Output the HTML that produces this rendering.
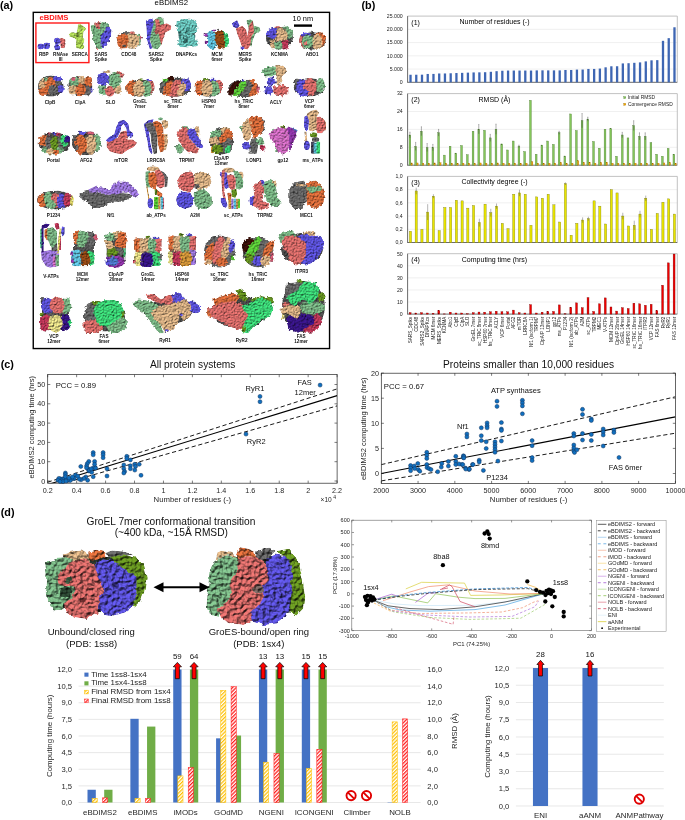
<!DOCTYPE html>
<html><head><meta charset="utf-8"><title>eBDIMS2 figure</title>
<style>
html,body{margin:0;padding:0;background:#fff;}
svg{display:block;font-family:"Liberation Sans", sans-serif;will-change:transform;}
</style></head>
<body>
<svg width="685" height="820" viewBox="0 0 685 820">
<rect width="685" height="820" fill="#fff"/>
<text x="0.00" y="9.30" font-size="10.8" text-anchor="start" fill="#000" font-weight="bold">(a)</text>
<text x="361.50" y="9.40" font-size="10.8" text-anchor="start" fill="#000" font-weight="bold">(b)</text>
<text x="0.70" y="368.10" font-size="10.8" text-anchor="start" fill="#000" font-weight="bold">(c)</text>
<text x="0.70" y="516.30" font-size="10.8" text-anchor="start" fill="#000" font-weight="bold">(d)</text>
<text x="171.30" y="5.00" font-size="7.8" text-anchor="middle" fill="#000">eBDIMS2</text>
<rect x="33.25" y="12.35" width="296.30" height="336.20" fill="none" stroke="#000" stroke-width="1.4"/>
<text x="39.50" y="20.20" font-size="7.65" text-anchor="start" fill="#ff1a1a" font-weight="bold">eBDIMS</text>
<rect x="35.90" y="23.00" width="53.00" height="39.60" fill="none" stroke="#ff1a1a" stroke-width="1.4"/>
<text x="292.60" y="21.00" font-size="7.4" text-anchor="start" fill="#000">10 nm</text>
<rect x="294.00" y="24.40" width="18.00" height="2.40" fill="#000"/>
<filter id="fp" x="-15%" y="-15%" width="130%" height="130%" color-interpolation-filters="sRGB"><feTurbulence type="fractalNoise" baseFrequency="0.33" numOctaves="2" seed="3" result="n"/><feDisplacementMap in="SourceGraphic" in2="n" scale="3.6" xChannelSelector="R" yChannelSelector="G" result="d"/><feTurbulence type="fractalNoise" baseFrequency="0.9" numOctaves="2" seed="14" result="t"/><feDiffuseLighting in="t" surfaceScale="3.0" diffuseConstant="1.0" lighting-color="#fff" result="L"><feDistantLight azimuth="235" elevation="55"/></feDiffuseLighting><feComposite in="d" in2="L" operator="arithmetic" k1="0.9" k2="0.18999999999999995" k3="0" k4="0" result="m"/><feComposite in="m" in2="d" operator="in"/></filter>
<filter id="fps" x="-15%" y="-15%" width="130%" height="130%" color-interpolation-filters="sRGB"><feTurbulence type="fractalNoise" baseFrequency="0.45" numOctaves="2" seed="3" result="n"/><feDisplacementMap in="SourceGraphic" in2="n" scale="1.8" xChannelSelector="R" yChannelSelector="G" result="d"/><feTurbulence type="fractalNoise" baseFrequency="0.9" numOctaves="2" seed="14" result="t"/><feDiffuseLighting in="t" surfaceScale="3.0" diffuseConstant="1.0" lighting-color="#fff" result="L"><feDistantLight azimuth="235" elevation="55"/></feDiffuseLighting><feComposite in="d" in2="L" operator="arithmetic" k1="0.9" k2="0.18999999999999995" k3="0" k4="0" result="m"/><feComposite in="m" in2="d" operator="in"/></filter>
<g filter="url(#fps)"><ellipse cx="40.8" cy="46.6" rx="3.4" ry="3.0" fill="#5f55e3"/><ellipse cx="46.6" cy="45.9" rx="3.4" ry="3.3" fill="#5f55e3"/></g>
<g filter="url(#fps)"><polygon points="59.0,38.8 62.0,37.8 65.5,39.5 65.6,44.0 64.5,48.3 61.0,48.0 60.0,44.0 59.5,41.0" fill="#e3716e"/><polygon points="54.3,38.5 57.5,37.6 60.0,39.0 60.5,43.0 58.5,45.0 60.5,47.0 59.5,50.2 55.0,50.0 54.0,46.5 55.5,44.0 54.0,41.5" fill="#5f55e3"/><ellipse cx="59.5" cy="44.2" rx="1.6" ry="0.8" fill="#f4f4f4"/></g>
<g filter="url(#fps)"><polygon points="77.9,24.5 80.4,24.1 83.2,26.1 86.1,28.2 85.7,29.8 83.6,31.4 83.2,34.7 82.8,37.2 84.4,39.2 84.0,41.7 83.2,44.5 84.4,46.2 83.6,48.6 81.2,49.4 78.7,48.6 76.3,48.2 75.9,44.5 76.3,40.4 75.0,38.4 72.2,37.6 69.3,36.4 68.9,34.3 71.0,32.3 73.4,32.3 76.3,33.1 77.1,30.6 77.5,28.2" fill="#b7e25c"/><ellipse cx="77.5" cy="35.0" rx="2.2" ry="2.0" fill="#7f9f3c"/><ellipse cx="80.5" cy="42.0" rx="1.2" ry="1.8" fill="#8fb445"/><ellipse cx="80.5" cy="27.5" rx="1.2" ry="1.0" fill="#8fb445"/></g>
<g filter="url(#fp)"><polygon points="90.6,25.8 95.9,23.2 105.1,21.9 109.7,25.8 107.7,33.7 103.8,42.9 102.5,49.5 95.9,48.2 93.3,40.3 91.3,31.1" fill="#7fbd8a"/><polygon points="95.2,22.5 99.0,21.9 100.5,25.0 99.0,29.1 96.0,28.0" fill="#e3716e"/><polygon points="106.4,25.2 111.6,29.8 111.0,36.3 107.7,44.2 103.8,49.5 100.5,45.5 101.1,36.3 105.1,31.1" fill="#5f55e3"/><ellipse cx="97.2" cy="48.8" rx="1.2" ry="1.5" fill="#e3716e"/></g>
<g filter="url(#fp)"><polygon points="120.8,32.4 126.1,31.1 131.4,32.4 128.0,35.5 122.0,35.5" fill="#6c6c6c"/><polygon points="136.0,33.7 139.5,33.5 141.2,38.0 140.5,44.0 137.0,46.8 136.0,40.0" fill="#7fbd8a"/><polygon points="127.4,33.7 134.0,33.1 139.2,36.3 139.2,44.2 135.3,48.8 128.7,48.8 126.1,40.3" fill="#e3b98a"/><polygon points="116.2,36.3 120.8,33.7 127.4,35.0 128.7,40.3 127.4,48.2 119.5,48.8 117.6,44.2" fill="#e2703c"/><ellipse cx="131.8" cy="32.5" rx="2.0" ry="1.3" fill="#e3716e"/><ellipse cx="140.8" cy="37.3" rx="1.0" ry="1.8" fill="#d9607a"/><ellipse cx="124.0" cy="46.0" rx="2.0" ry="1.5" fill="#6c6c6c"/></g>
<g filter="url(#fps)"><polygon points="148.4,24.5 153.7,20.6 158.9,16.6 163.5,17.9 164.2,27.1 161.6,35.0 161.6,44.2 157.6,49.5 152.4,48.2 149.8,39.0 149.1,29.8" fill="#7fbd8a"/><polygon points="145.8,20.6 152.4,17.9 153.7,23.2 151.1,32.4 149.8,40.3 152.4,48.2 149.8,49.5 147.1,40.3 146.5,29.8" fill="#5f55e3"/><polygon points="155.0,19.3 159.0,19.5 160.0,25.0 166.8,23.2 171.4,25.8 170.8,29.8 165.5,32.4 162.9,40.3 161.6,45.5 160.0,40.0 159.0,35.0 156.0,28.0" fill="#e3716e"/><ellipse cx="156.5" cy="31.0" rx="1.5" ry="3.5" fill="#b85a5a"/></g>
<g filter="url(#fp)"><ellipse cx="187.0" cy="33.0" rx="9.0" ry="12.0" fill="#3f807a"/><polygon points="176.6,21.9 181.9,19.3 189.8,18.6 196.3,20.6 197.6,28.5 193.7,33.7 195.0,39.0 198.3,40.3 198.3,45.5 193.7,46.8 187.1,47.5 179.3,46.8 177.3,42.9 180.6,37.7 181.9,32.4 177.3,31.1 176.0,25.8" fill="#6fcfc6"/><ellipse cx="185.8" cy="40.3" rx="3.0" ry="3.0" fill="#3f807a"/><ellipse cx="188.0" cy="30.0" rx="2.5" ry="3.0" fill="#4fa39b"/></g>
<g filter="url(#fp)"><polygon points="222.6,31.1 227.9,33.7 229.2,40.3 228.5,46.8 223.9,48.2 223.0,40.0" fill="#3ee07c"/><polygon points="205.5,33.7 210.8,31.1 216.0,32.4 217.4,40.3 216.0,48.2 210.8,49.5 206.8,45.5 208.2,40.3" fill="#62c9e6"/><polygon points="214.7,32.4 221.3,30.4 223.9,33.7 225.2,40.3 224.6,48.2 218.7,49.5 216.0,42.9" fill="#9b4c16"/><ellipse cx="206.2" cy="35.0" rx="1.8" ry="2.0" fill="#9337ad"/><ellipse cx="206.2" cy="42.2" rx="1.8" ry="2.0" fill="#9337ad"/><ellipse cx="213.4" cy="30.6" rx="1.8" ry="1.4" fill="#9337ad"/><ellipse cx="218.0" cy="29.8" rx="1.2" ry="1.2" fill="#6c6c6c"/></g>
<g filter="url(#fps)"><polygon points="246.3,20.6 250.2,19.3 252.8,20.6 254.1,25.8 259.4,27.1 260.7,31.1 255.5,33.7 252.8,40.3 251.5,46.8 249.0,45.0 249.0,30.0" fill="#7fbd8a"/><polygon points="231.8,23.2 237.1,19.9 239.7,25.8 237.1,28.5 233.1,27.1" fill="#5f55e3"/><polygon points="235.8,28.5 242.3,25.8 246.3,29.8 247.6,36.3 248.9,25.8 252.8,20.6 254.1,32.4 251.5,36.3 250.2,45.5 247.6,49.5 242.3,48.2 239.7,40.3 237.1,33.7" fill="#e3716e"/><ellipse cx="242.3" cy="48.0" rx="2.0" ry="1.6" fill="#5f55e3"/></g>
<g filter="url(#fp)"><ellipse cx="279.5" cy="38.0" rx="13.5" ry="11.0" fill="#505050"/><polygon points="281.9,26.9 287.8,25.9 291.8,29.9 293.8,33.9 290.8,37.8 287.8,39.8 286.8,30.9" fill="#7fbd8a"/><polygon points="273.9,26.9 278.9,25.4 280.9,27.9 276.9,28.9" fill="#e3716e"/><polygon points="275.9,29.9 281.9,27.9 286.8,30.9 287.8,36.8 284.8,40.8 278.9,41.8 274.9,39.8 274.9,33.9" fill="#e3b98a"/><polygon points="265.0,34.9 268.0,29.9 271.9,27.9 276.9,28.9 276.9,35.8 273.9,39.3 269.0,37.8" fill="#5f55e3"/><polygon points="269.9,40.8 274.9,39.8 275.9,45.8 272.9,48.8 270.4,46.8" fill="#e3b98a"/><polygon points="281.9,40.8 287.8,39.8 289.3,43.8 287.8,48.8 282.9,49.7 281.4,44.8" fill="#c63a5c"/><polygon points="273.9,42.8 279.9,41.8 282.9,43.8 281.9,48.8 277.9,50.2 274.9,48.8" fill="#7fbd8a"/></g>
<g filter="url(#fp)"><ellipse cx="312.4" cy="40.9" rx="13.2" ry="8.9" fill="#505050"/><ellipse cx="319.6" cy="39.3" rx="6.0" ry="7.4" fill="#e2703c"/><ellipse cx="317.1" cy="41.8" rx="5.5" ry="7.9" fill="#e3b98a"/><ellipse cx="302.4" cy="40.6" rx="3.2" ry="7.2" fill="#e3716e"/><ellipse cx="305.7" cy="34.6" rx="5.0" ry="2.2" fill="#5f55e3"/><ellipse cx="307.6" cy="41.8" rx="6.0" ry="6.9" fill="#7fbd8a"/><ellipse cx="305.5" cy="43.5" rx="2.0" ry="1.5" fill="#e3716e"/><ellipse cx="311.1" cy="32.4" rx="1.5" ry="1.0" fill="#6c6c6c"/><ellipse cx="319.5" cy="33.2" rx="1.0" ry="1.0" fill="#6c6c6c"/></g>
<g filter="url(#fp)"><ellipse cx="50.8" cy="86.0" rx="12.8" ry="10.5" fill="#505050"/><ellipse cx="43.8" cy="85.0" rx="5.2" ry="6.0" fill="#e3b98a"/><ellipse cx="46.2" cy="79.0" rx="2.2" ry="2.0" fill="#7fbd8a"/><ellipse cx="43.2" cy="91.8" rx="4.8" ry="4.2" fill="#e2703c"/><ellipse cx="50.5" cy="86.0" rx="5.5" ry="9.0" fill="#e2703c"/><ellipse cx="53.0" cy="90.5" rx="5.0" ry="5.5" fill="#6c6c6c"/><ellipse cx="58.2" cy="82.0" rx="2.8" ry="4.0" fill="#6c6c6c"/><ellipse cx="57.6" cy="78.4" rx="4.6" ry="2.6" fill="#5f55e3"/><ellipse cx="61.0" cy="89.0" rx="2.7" ry="4.0" fill="#5f55e3"/></g>
<g filter="url(#fp)"><ellipse cx="80.3" cy="86.4" rx="12.1" ry="9.9" fill="#505050"/><ellipse cx="74.1" cy="81.7" rx="5.3" ry="4.6" fill="#7fbd8a"/><ellipse cx="82.6" cy="79.8" rx="4.6" ry="4.0" fill="#e3b98a"/><ellipse cx="88.5" cy="81.7" rx="4.0" ry="4.6" fill="#e2703c"/><ellipse cx="73.0" cy="90.2" rx="4.5" ry="5.2" fill="#e3b98a"/><ellipse cx="87.8" cy="90.2" rx="3.8" ry="5.2" fill="#6c6c6c"/><ellipse cx="80.7" cy="90.0" rx="5.3" ry="6.0" fill="#e2703c"/><ellipse cx="73.5" cy="78.5" rx="2.0" ry="1.5" fill="#d9607a"/><ellipse cx="91.7" cy="90.2" rx="1.1" ry="2.8" fill="#5f55e3"/></g>
<g filter="url(#fp)"><ellipse cx="107.0" cy="71.6" rx="4.0" ry="1.6" fill="#e3b98a"/><ellipse cx="118.8" cy="74.8" rx="5.2" ry="3.6" fill="#e3716e"/><ellipse cx="102.7" cy="89.6" rx="4.3" ry="5.9" fill="#7fbd8a"/><ellipse cx="117.5" cy="89.0" rx="4.0" ry="5.2" fill="#e3b98a"/><ellipse cx="114.5" cy="79.8" rx="6.9" ry="7.8" fill="#7fbd8a"/><ellipse cx="103.3" cy="79.1" rx="6.2" ry="6.6" fill="#5f55e3"/><ellipse cx="109.9" cy="91.2" rx="4.9" ry="5.5" fill="#e3716e"/></g>
<g filter="url(#fp)"><ellipse cx="140.3" cy="88.2" rx="14.1" ry="8.6" fill="#505050"/><ellipse cx="141.2" cy="79.5" rx="2.2" ry="1.2" fill="#6b9a22"/><ellipse cx="148.5" cy="80.2" rx="3.5" ry="1.4" fill="#5f55e3"/><ellipse cx="131.1" cy="87.8" rx="4.9" ry="7.4" fill="#e2703c"/><ellipse cx="150.4" cy="87.1" rx="4.1" ry="6.7" fill="#e3716e"/><ellipse cx="146.3" cy="88.6" rx="5.2" ry="8.2" fill="#7fbd8a"/><ellipse cx="138.9" cy="88.6" rx="6.0" ry="8.2" fill="#e3b98a"/></g>
<g filter="url(#fp)"><ellipse cx="175.0" cy="87.2" rx="16.0" ry="9.6" fill="#505050"/><ellipse cx="170.9" cy="78.6" rx="3.7" ry="1.9" fill="#3c1008"/><ellipse cx="165.5" cy="80.0" rx="3.0" ry="1.5" fill="#5fd43a"/><ellipse cx="185.8" cy="84.8" rx="5.2" ry="6.7" fill="#5f55e3"/><ellipse cx="162.3" cy="87.8" rx="3.3" ry="5.9" fill="#6c6c6c"/><polygon points="162.0,95.0 166.0,83.0 172.0,80.5 173.5,85.0 170.0,96.0" fill="#e2703c"/><polygon points="169.0,96.5 172.0,84.0 176.0,79.6 180.6,81.0 178.0,96.5" fill="#e3716e"/><polygon points="177.0,96.0 179.0,86.0 183.0,81.1 185.5,85.0 183.5,96.0" fill="#e3b98a"/></g>
<g filter="url(#fp)"><ellipse cx="208.8" cy="87.9" rx="14.2" ry="8.9" fill="#505050"/><ellipse cx="205.5" cy="79.3" rx="3.0" ry="1.2" fill="#6b9a22"/><ellipse cx="213.5" cy="79.8" rx="3.5" ry="1.2" fill="#5f55e3"/><ellipse cx="199.6" cy="87.5" rx="4.9" ry="7.8" fill="#e2703c"/><ellipse cx="218.8" cy="86.8" rx="4.2" ry="7.0" fill="#e3716e"/><ellipse cx="214.2" cy="88.5" rx="5.2" ry="8.0" fill="#7fbd8a"/><ellipse cx="207.2" cy="88.6" rx="5.8" ry="8.2" fill="#e3b98a"/></g>
<g filter="url(#fp)"><ellipse cx="243.8" cy="88.5" rx="15.7" ry="9.0" fill="#505050"/><polygon points="228.2,91.3 232.0,83.8 237.9,80.8 240.9,81.6 234.9,89.8 232.0,95.7 228.2,95.0" fill="#3c1008"/><polygon points="234.9,89.8 240.9,81.6 245.4,80.8 246.8,83.8 240.9,92.8 237.9,96.5 232.7,95.7" fill="#5fd43a"/><polygon points="245.4,80.8 249.8,80.8 252.8,85.3 249.8,94.2 246.8,96.5 239.4,96.5 242.4,91.3 246.8,84.6" fill="#6c6c6c"/><polygon points="248.3,79.4 254.3,80.1 258.0,85.3 258.8,92.8 254.3,95.7 248.3,96.5 251.3,89.8 252.8,83.8" fill="#e2703c"/><ellipse cx="258.1" cy="89.0" rx="1.7" ry="4.0" fill="#d9607a"/><ellipse cx="243.0" cy="80.7" rx="1.5" ry="0.9" fill="#5f55e3"/></g>
<g filter="url(#fp)"><polygon points="261.7,71.9 264.7,67.4 272.2,66.0 278.1,67.4 278.1,73.4 272.2,76.4 264.7,76.4" fill="#7fbd8a"/><polygon points="275.1,65.2 281.1,64.5 287.0,68.9 285.6,73.4 281.1,76.4 282.6,80.8 279.6,85.3 275.1,83.8 276.6,76.4" fill="#e3b98a"/><polygon points="267.7,77.9 273.6,76.4 275.9,82.3 272.2,86.8 267.7,84.6" fill="#5f55e3"/><polygon points="264.0,86.1 270.7,85.3 273.6,91.3 270.7,95.7 264.7,94.2" fill="#5f55e3"/><polygon points="273.6,86.8 281.1,84.6 288.5,86.8 288.5,92.8 282.6,96.5 275.1,95.7 272.9,91.3" fill="#e3716e"/></g>
<g filter="url(#fp)"><ellipse cx="309.4" cy="87.2" rx="15.7" ry="9.2" fill="#505050"/><ellipse cx="297.0" cy="81.2" rx="3.3" ry="2.6" fill="#6c6c6c"/><ellipse cx="320.1" cy="85.3" rx="4.8" ry="7.4" fill="#7fbd8a"/><ellipse cx="302.7" cy="88.0" rx="6.7" ry="8.5" fill="#5f55e3"/><ellipse cx="310.1" cy="86.8" rx="6.7" ry="8.9" fill="#e3716e"/><ellipse cx="304.0" cy="92.8" rx="4.0" ry="3.8" fill="#5f55e3"/></g>
<g filter="url(#fp)"><ellipse cx="54.4" cy="143.4" rx="15.8" ry="10.9" fill="#505050"/><ellipse cx="52.5" cy="150.2" rx="11.5" ry="4.2" fill="#7fbd8a"/><ellipse cx="50.0" cy="151.2" rx="4.0" ry="3.2" fill="#e3b98a"/><ellipse cx="56.0" cy="151.7" rx="3.0" ry="2.7" fill="#e2703c"/><ellipse cx="43.5" cy="140.8" rx="4.8" ry="5.9" fill="#e2703c"/><ellipse cx="48.8" cy="142.6" rx="3.5" ry="6.1" fill="#6c6c6c"/><ellipse cx="60.5" cy="142.1" rx="3.1" ry="6.6" fill="#6c6c6c"/><ellipse cx="64.6" cy="140.6" rx="4.1" ry="6.1" fill="#3ee07c"/><ellipse cx="67.4" cy="139.0" rx="2.8" ry="3.6" fill="#3a168c"/><ellipse cx="54.4" cy="143.1" rx="4.1" ry="6.6" fill="#6b9a22"/><ellipse cx="48.8" cy="133.8" rx="1.5" ry="1.7" fill="#d9607a"/><ellipse cx="53.8" cy="133.6" rx="1.6" ry="1.8" fill="#5f55e3"/><ellipse cx="58.0" cy="134.1" rx="2.6" ry="1.9" fill="#c63a5c"/></g>
<g filter="url(#fp)"><ellipse cx="86.5" cy="143.4" rx="14.5" ry="11.9" fill="#505050"/><ellipse cx="75.3" cy="136.7" rx="3.6" ry="2.8" fill="#6c6c6c"/><ellipse cx="82.0" cy="133.1" rx="3.0" ry="2.3" fill="#5f55e3"/><ellipse cx="90.5" cy="132.9" rx="3.5" ry="1.6" fill="#d9607a"/><ellipse cx="96.1" cy="142.6" rx="4.9" ry="9.2" fill="#7fbd8a"/><ellipse cx="90.7" cy="144.6" rx="5.6" ry="10.2" fill="#e3b98a"/><ellipse cx="80.9" cy="144.6" rx="6.1" ry="10.2" fill="#e2703c"/><ellipse cx="76.5" cy="148.0" rx="2.0" ry="2.5" fill="#6c6c6c"/></g>
<g filter="url(#fps)"><polygon points="106.6,141.6 110.9,139.4 117.5,138.3 120.8,131.7 126.3,130.6 128.5,135.0 127.4,139.4 132.8,139.4 137.2,142.7 133.9,147.0 127.4,150.3 121.9,154.2 116.4,153.6 109.9,151.4 106.6,147.0" fill="#e3716e"/><polygon points="105.5,140.5 108.8,137.2 114.2,133.9 116.4,126.2 119.7,120.8 124.1,119.7 128.5,124.0 129.6,130.6 132.8,132.8 133.4,136.1 130.7,138.3 127.4,136.1 126.3,128.4 123.5,124.0 121.4,126.2 120.8,130.6 117.5,137.2 113.1,140.5 108.8,142.1" fill="#5f55e3"/></g>
<g filter="url(#fps)"><polygon points="143.8,124.0 148.2,120.2 153.7,119.1 152.6,123.0 148.2,126.2 149.3,133.9 150.4,142.7 152.6,152.5 151.5,154.2 148.7,150.3 147.1,139.4 144.9,130.6" fill="#5f55e3"/><polygon points="144.9,124.0 150.4,121.9 154.7,124.0 156.9,133.9 157.5,144.8 156.9,153.6 153.7,154.2 151.5,144.8 150.4,133.9 147.1,128.4" fill="#6c6c6c"/><polygon points="162.4,133.9 167.5,134.0 168.0,142.0 166.0,150.3 162.4,150.3" fill="#e3b98a"/><polygon points="152.6,121.9 156.9,120.8 161.3,123.0 163.5,128.4 163.5,133.9 164.6,142.7 163.5,151.4 160.2,152.5 158.0,144.8 156.9,133.9 154.7,126.2" fill="#e2703c"/><polygon points="161.3,120.8 165.7,119.7 168.4,123.0 167.9,127.3 164.6,129.5 162.5,125.0" fill="#e3b98a"/><ellipse cx="160.5" cy="118.8" rx="2.5" ry="1.6" fill="#7fbd8a"/></g>
<g filter="url(#fp)"><polygon points="174.9,146.5 179.3,143.6 183.7,148.0 183.7,152.3 177.8,153.1" fill="#7fbd8a"/><ellipse cx="185.2" cy="128.2" rx="4.3" ry="2.2" fill="#7fbd8a"/><ellipse cx="196.8" cy="131.8" rx="2.9" ry="5.8" fill="#e3b98a"/><polygon points="177.8,131.9 182.2,127.5 188.1,128.2 189.5,139.2 195.4,145.0 199.7,149.4 196.8,153.8 188.1,152.3 183.7,148.0 179.3,142.1 177.1,136.3" fill="#e3716e"/><polygon points="188.1,129.0 193.9,127.5 196.8,133.4 199.7,139.2 203.4,146.5 201.2,149.4 195.4,145.0 189.5,139.2 187.3,133.4" fill="#5f55e3"/></g>
<g filter="url(#fp)"><ellipse cx="221.4" cy="141.2" rx="11.9" ry="13.2" fill="#505050"/><polygon points="210.0,131.9 215.8,129.7 221.6,130.4 220.2,136.3 212.9,137.7 210.0,135.5" fill="#7fbd8a"/><polygon points="220.2,129.0 226.0,126.8 230.4,129.0 228.9,134.8 223.1,136.3" fill="#e3b98a"/><polygon points="226.0,129.0 231.9,130.4 233.3,137.7 227.5,143.6 220.2,143.6 218.7,137.7 223.0,134.0" fill="#e2703c"/><polygon points="209.2,137.7 215.8,137.0 220.2,140.7 217.3,145.0 211.4,144.3" fill="#e3b98a"/><polygon points="227.5,137.7 232.6,139.2 231.9,150.9 226.0,153.8 221.6,149.4 223.1,143.6" fill="#6c6c6c"/><ellipse cx="212.9" cy="149.4" rx="2.9" ry="3.9" fill="#d99a3a"/><polygon points="212.9,145.0 221.6,145.0 223.1,152.3 215.8,154.5 212.1,150.9" fill="#6b9a22"/><ellipse cx="228.2" cy="149.4" rx="2.2" ry="3.9" fill="#3ee07c"/></g>
<g filter="url(#fp)"><ellipse cx="241.7" cy="128.2" rx="1.8" ry="2.2" fill="#7fbd8a"/><polygon points="242.1,124.6 246.5,119.5 250.8,118.8 251.6,127.5 250.8,137.7 247.9,142.1 243.5,139.2 242.1,131.9" fill="#e3b98a"/><polygon points="259.6,117.3 263.0,119.0 265.4,124.0 264.0,131.9 261.0,133.0" fill="#6c6c6c"/><polygon points="249.4,117.3 255.2,115.1 261.1,117.3 264.0,124.6 262.5,131.9 258.1,136.3 253.8,139.2 251.6,131.9 250.8,123.1" fill="#e2703c"/><polygon points="250.8,139.2 256.7,137.7 258.1,146.5 256.7,153.8 249.4,153.8 249.4,146.5" fill="#6c6c6c"/><polygon points="255.2,139.2 262.5,137.7 264.7,143.6 259.6,146.5 256.0,143.0" fill="#7fbd8a"/><ellipse cx="262.1" cy="147.9" rx="2.5" ry="3.0" fill="#c63a5c"/><polygon points="242.1,143.6 247.9,142.1 250.8,146.5 247.9,150.1 242.8,148.7" fill="#5f55e3"/></g>
<g filter="url(#fp)"><ellipse cx="273.2" cy="130.5" rx="2.2" ry="2.0" fill="#7fbd8a"/><ellipse cx="277.0" cy="149.0" rx="2.0" ry="3.0" fill="#7fbd8a"/><polygon points="280.0,126.2 284.7,125.8 285.6,128.1 281.0,128.5" fill="#6b9a22"/><polygon points="290.3,127.2 297.8,130.0 296.8,132.8 293.1,131.4" fill="#4a90d8"/><polygon points="269.3,135.1 271.6,130.4 276.3,128.6 281.9,127.6 287.5,128.6 289.4,136.0 289.4,145.4 287.5,151.9 282.8,154.7 278.1,151.9 275.3,145.4 271.6,139.8" fill="#d870c9"/><polygon points="286.6,127.6 291.2,127.6 295.9,131.4 296.8,136.0 294.0,140.7 292.2,147.3 289.4,151.9 288.5,145.0 289.4,136.0" fill="#9337ad"/></g>
<g filter="url(#fps)"><polygon points="304.3,131.4 306.5,131.4 308.1,150.1 306.0,150.1" fill="#e3b98a"/><polygon points="322.1,117.3 325.8,122.0 325.8,130.4 322.1,130.4" fill="#e2703c"/><polygon points="314.6,117.3 320.2,116.4 324.9,121.1 325.8,128.6 322.1,133.2 317.4,133.2 315.5,128.6" fill="#e3716e"/><polygon points="307.1,113.6 310.9,110.8 316.5,109.4 319.3,112.7 316.9,116.4 316.5,129.5 312.7,131.4 309.0,130.4 308.1,122.0 306.2,116.4" fill="#e3b98a"/><polygon points="304.3,116.4 307.1,115.5 309.0,121.1 308.1,129.5 306.2,131.4 303.9,126.7" fill="#5f55e3"/><ellipse cx="313.6" cy="134.9" rx="3.8" ry="2.6" fill="#6b9a22"/><ellipse cx="315.6" cy="139.5" rx="3.8" ry="2.5" fill="#6c6c6c"/><ellipse cx="306.9" cy="145.4" rx="3.0" ry="4.7" fill="#5f55e3"/><rect x="310.9" y="141.6" width="3.7" height="12.2" rx="1.0" fill="#4a4a60"/><rect x="313.7" y="142.6" width="3.8" height="11.2" rx="1.0" fill="#62c9e6"/><rect x="316.5" y="141.6" width="3.7" height="12.2" rx="1.0" fill="#3ee07c"/></g>
<g filter="url(#fp)"><ellipse cx="55.1" cy="200.1" rx="18.1" ry="9.4" fill="#505050"/><ellipse cx="42.2" cy="200.5" rx="4.8" ry="7.0" fill="#e2703c"/><ellipse cx="48.5" cy="198.8" rx="4.5" ry="7.2" fill="#7fbd8a"/><ellipse cx="55.5" cy="200.0" rx="4.5" ry="8.0" fill="#e3716e"/><ellipse cx="51.0" cy="204.7" rx="5.0" ry="4.7" fill="#7fbd8a"/><ellipse cx="61.5" cy="200.8" rx="4.5" ry="7.8" fill="#5f55e3"/><ellipse cx="67.2" cy="199.8" rx="3.8" ry="7.2" fill="#c63a5c"/><ellipse cx="71.8" cy="200.5" rx="1.8" ry="5.5" fill="#e8e070"/><ellipse cx="58.0" cy="192.3" rx="3.0" ry="1.7" fill="#6c6c6c"/></g>
<g filter="url(#fp)"><polygon points="79.1,194.7 84.2,190.6 90.3,189.5 98.5,192.6 108.7,194.7 116.9,192.6 127.1,193.6 132.2,194.7 129.1,198.7 123.0,201.8 112.8,201.8 106.7,204.9 100.5,208.0 92.3,208.0 88.3,202.8 82.1,199.8" fill="#6c6c6c"/><polygon points="88.3,189.5 94.4,186.5 102.6,187.5 109.7,189.5 112.8,184.4 116.9,181.4 125.0,181.4 131.2,184.4 137.3,190.6 139.4,195.7 134.2,197.7 130.2,193.6 123.0,192.6 114.8,194.7 106.7,194.7 98.5,192.6 90.3,192.6" fill="#a57de8"/></g>
<g filter="url(#fps)"><ellipse cx="153.1" cy="168.9" rx="6.4" ry="2.6" fill="#e3b98a"/><polygon points="145.5,171.5 150.0,171.0 151.0,180.0 150.4,187.6 146.5,187.6 145.3,180.0" fill="#7fbd8a"/><polygon points="160.7,170.5 164.4,172.4 168.0,177.2 167.4,186.4 164.4,187.6 165.0,180.3" fill="#6c6c6c"/><polygon points="148.5,173.0 153.4,171.8 157.1,174.2 157.7,182.1 155.9,188.2 158.3,190.7 162.6,193.7 162.0,197.4 157.7,196.1 154.6,189.4 150.4,187.6 148.5,182.1" fill="#e2703c"/><polygon points="154.6,171.1 159.5,169.3 163.2,174.2 165.0,179.1 164.4,186.4 160.7,188.8 157.1,186.4 156.5,177.2" fill="#e3716e"/><rect x="154.6" y="189.4" width="2.5" height="5.6" rx="0.8" fill="#6b9a22"/><polygon points="146.2,186.4 147.4,186.4 151.0,207.1 149.6,207.1" fill="#d99a3a"/><ellipse cx="150.4" cy="203.2" rx="3.0" ry="5.2" fill="#5f55e3"/><rect x="154.0" y="196.8" width="4.2" height="12.8" rx="1.0" fill="#5fd43a"/><rect x="158.2" y="196.8" width="2.4" height="12.8" rx="0.5" fill="#d99a3a"/><rect x="160.6" y="196.8" width="2.5" height="12.8" rx="0.5" fill="#62c9e6"/><rect x="163.1" y="197.5" width="1.1" height="11.5" rx="0.5" fill="#d9607a"/></g>
<g filter="url(#fp)"><polygon points="177.2,180.4 181.3,173.2 190.4,171.2 194.5,176.3 194.5,186.5 190.4,192.6 182.3,190.6 178.2,186.5" fill="#e3716e"/><polygon points="194.5,174.2 200.7,171.2 208.8,174.2 211.9,182.4 206.8,188.5 198.6,190.6 194.0,186.0" fill="#e3b98a"/><ellipse cx="196.6" cy="186.5" rx="2.5" ry="2.5" fill="#6c6c6c"/><polygon points="177.2,194.7 182.3,191.6 190.4,192.6 193.5,198.7 191.5,206.9 184.3,209.0 178.2,205.9 176.1,200.8" fill="#5f55e3"/><polygon points="193.5,192.6 198.6,189.5 206.8,190.6 211.9,196.7 211.9,204.9 206.8,209.0 198.6,209.0 194.5,202.8" fill="#7fbd8a"/></g>
<g filter="url(#fps)"><ellipse cx="228.6" cy="170.2" rx="6.1" ry="2.7" fill="#e3b98a"/><ellipse cx="240.8" cy="175.4" rx="2.7" ry="3.8" fill="#e3b98a"/><polygon points="233.0,170.4 237.7,171.0 241.2,175.7 243.5,181.6 242.9,187.4 239.4,189.7 235.9,188.6 235.3,178.6" fill="#7fbd8a"/><polygon points="219.5,173.9 222.4,171.6 227.1,172.8 228.3,178.6 228.9,187.4 226.0,189.2 223.6,186.2 222.4,178.6 220.1,175.7" fill="#5f55e3"/><polygon points="226.5,175.7 230.6,173.9 234.7,175.7 235.9,181.6 235.3,188.6 231.8,190.3 228.9,187.4 227.7,181.6" fill="#e3716e"/><polygon points="221.9,170.4 224.8,169.9 224.2,181.6 224.8,193.3 227.1,204.4 225.4,205.0 222.4,194.4 221.3,181.6" fill="#e3716e"/><polygon points="231.2,190.3 236.5,188.6 237.1,194.4 235.3,197.9 231.8,196.8" fill="#6b9a22"/><polygon points="227.1,193.3 230.0,192.1 231.8,195.0 231.2,199.1 228.3,200.3" fill="#e2703c"/><polygon points="220.7,197.9 224.8,197.9 227.7,205.0 225.9,207.9 223.0,206.7 220.7,202.0" fill="#5f55e3"/><rect x="228.3" y="198.5" width="2.9" height="10.5" rx="0.8" fill="#d99a3a"/><rect x="231.2" y="198.5" width="2.4" height="10.5" rx="0.5" fill="#a57de8"/><rect x="233.6" y="198.5" width="2.6" height="10.5" rx="0.5" fill="#62c9e6"/><rect x="236.2" y="198.5" width="1.7" height="10.5" rx="0.5" fill="#d99a3a"/><rect x="237.9" y="198.5" width="2.1" height="10.0" rx="0.8" fill="#5fd43a"/></g>
<g filter="url(#fp)"><ellipse cx="273.8" cy="184.4" rx="2.9" ry="4.6" fill="#e3b98a"/><polygon points="262.6,182.3 270.9,179.8 275.9,185.6 277.6,197.3 281.7,202.3 277.6,207.3 270.9,205.6 265.9,198.9 263.4,190.6" fill="#7fbd8a"/><ellipse cx="252.7" cy="200.6" rx="3.3" ry="5.0" fill="#5f55e3"/><ellipse cx="261.8" cy="182.3" rx="2.5" ry="2.5" fill="#5f55e3"/><polygon points="254.3,184.0 260.9,180.6 264.3,189.0 262.6,200.6 269.3,204.0 267.6,208.9 259.3,209.8 252.6,205.6 254.3,195.6 253.4,189.0" fill="#e3716e"/></g>
<g filter="url(#fp)"><polygon points="289.2,189.0 294.2,182.3 304.2,180.6 307.5,189.0 306.7,200.6 302.5,208.9 294.2,208.9 289.2,202.3" fill="#6c6c6c"/><polygon points="305.9,182.3 315.8,180.6 322.5,185.6 325.8,195.6 322.5,205.6 314.2,208.9 306.7,203.9 306.7,192.3" fill="#e2703c"/><polygon points="305.9,187.3 320.8,185.6 322.5,190.6 309.2,193.1" fill="#7fbd8a"/><ellipse cx="300.5" cy="185.2" rx="4.5" ry="1.2" fill="#e3b98a"/></g>
<g filter="url(#fps)"><polygon points="40.9,251.5 50.0,250.1 58.4,250.8 59.1,255.0 58.4,266.3 50.0,267.7 45.8,266.3 41.6,259.2" fill="#a57de8"/><rect x="52.8" y="256.4" width="2.8" height="10.0" rx="0.5" fill="#d870c9"/><rect x="55.6" y="255.0" width="3.5" height="11.0" rx="0.5" fill="#7fbd8a"/><rect x="40.2" y="228.4" width="2.2" height="20.0" rx="1.0" fill="#3ee07c"/><rect x="41.5" y="225.6" width="2.2" height="27.0" rx="1.0" fill="#3a168c"/><polygon points="41.6,225.6 45.8,223.5 50.0,224.2 47.2,227.7 43.7,228.4" fill="#3a168c"/><polygon points="44.4,229.8 48.6,227.7 50.0,234.0 47.2,241.0 44.4,236.8" fill="#e2703c"/><rect x="51.4" y="241.0" width="5.6" height="10.0" rx="1.0" fill="#6c6c6c"/><polygon points="47.2,228.4 52.8,227.0 57.0,231.2 57.0,242.4 52.8,248.0 50.0,245.2 47.2,238.2" fill="#7fbd8a"/><polygon points="54.2,223.5 58.4,222.8 59.8,228.4 56.5,230.0" fill="#c63a5c"/><rect x="58.5" y="236.0" width="2.5" height="14.0" rx="0.5" fill="#c63a5c"/><polygon points="59.5,228.4 61.5,228.4 58.7,253.6 56.7,253.6" fill="#e8e070"/><polygon points="61.9,226.3 64.7,227.0 64.7,234.0 62.6,236.8 61.0,233.0" fill="#5f55e3"/></g>
<g filter="url(#fp)"><rect x="74.0" y="233.0" width="20.0" height="32.0" rx="4.0" fill="#5a5a5a"/><polygon points="73.1,232.6 78.0,230.5 80.8,234.0 79.4,239.6 76.0,243.8 73.1,241.0" fill="#e2703c"/><polygon points="87.9,231.2 93.5,232.6 96.3,236.8 94.9,245.2 92.1,248.0 87.9,246.6" fill="#6c6c6c"/><polygon points="78.0,232.6 82.2,230.5 87.9,232.6 88.6,238.2 86.5,243.8 82.2,248.0 78.0,246.6 76.6,241.0" fill="#7fbd8a"/><ellipse cx="95.8" cy="237.5" rx="1.5" ry="3.5" fill="#d9607a"/><polygon points="71.0,250.8 78.0,249.4 82.2,252.2 80.8,259.2 80.8,266.3 73.8,266.3 71.0,260.6" fill="#62c9e6"/><polygon points="87.9,250.8 93.5,252.2 94.9,259.2 93.5,264.8 90.0,264.8 88.0,258.0" fill="#3ee07c"/><polygon points="80.8,252.2 86.5,250.8 89.3,255.0 90.7,262.0 87.9,266.3 82.2,266.3 81.5,259.2" fill="#9b4c16"/><ellipse cx="71.7" cy="253.6" rx="1.5" ry="2.0" fill="#9337ad"/><ellipse cx="72.4" cy="261.3" rx="1.5" ry="2.0" fill="#9337ad"/></g>
<g filter="url(#fp)"><rect x="106.5" y="234.0" width="19.0" height="31.0" rx="4.0" fill="#5a5a5a"/><polygon points="113.1,231.2 120.1,230.5 124.3,232.6 121.5,238.2 115.9,239.6 112.5,236.0" fill="#e3b98a"/><polygon points="120.1,231.9 125.7,232.6 127.1,238.2 125.7,248.0 120.1,248.0 114.5,245.2 116.0,240.0" fill="#e2703c"/><polygon points="104.7,235.4 110.3,232.6 114.5,234.0 114.5,239.6 108.9,241.0 105.4,238.9" fill="#7fbd8a"/><polygon points="104.7,241.0 111.7,241.0 114.5,248.0 108.9,249.4 106.1,247.3" fill="#e3b98a"/><polygon points="117.3,248.0 124.3,248.0 125.7,253.6 121.5,256.4 117.0,253.0" fill="#6c6c6c"/><polygon points="107.5,249.4 114.5,248.0 118.7,252.2 114.5,256.4 108.9,256.4 106.8,253.6" fill="#6b9a22"/><rect x="123.6" y="248.0" width="2.0" height="8.5" rx="0.5" fill="#3ee07c"/><polygon points="106.1,257.8 114.5,255.7 120.1,256.4 124.3,259.2 124.3,264.8 117.3,267.7 108.9,267.0 106.1,263.4" fill="#9337ad"/><ellipse cx="113.5" cy="261.5" rx="4.5" ry="4.5" fill="#4f7fd4"/><ellipse cx="107.5" cy="262.0" rx="2.2" ry="3.5" fill="#5f55e3"/></g>
<g filter="url(#fp)"><rect x="136.0" y="238.5" width="24.0" height="26.0" rx="3.0" fill="#5a5a5a"/><rect x="134.1" y="238.3" width="6.5" height="13.5" rx="2.0" fill="#e2703c"/><rect x="139.2" y="238.3" width="10.2" height="14.3" rx="2.0" fill="#e3b98a"/><rect x="147.9" y="239.3" width="10.2" height="13.3" rx="2.0" fill="#7fbd8a"/><rect x="156.1" y="238.3" width="5.6" height="13.3" rx="2.0" fill="#e3716e"/><ellipse cx="147.8" cy="237.0" rx="2.5" ry="1.5" fill="#6b9a22"/><ellipse cx="156.0" cy="237.8" rx="3.5" ry="1.2" fill="#5f55e3"/><rect x="134.6" y="252.1" width="8.7" height="13.8" rx="2.0" fill="#ede58c"/><rect x="150.4" y="252.1" width="10.3" height="13.8" rx="2.0" fill="#3ee07c"/><rect x="141.2" y="253.6" width="11.3" height="13.3" rx="2.0" fill="#3a168c"/><ellipse cx="160.6" cy="256.5" rx="1.3" ry="3.5" fill="#6c6c6c"/><ellipse cx="134.8" cy="261.5" rx="1.0" ry="2.0" fill="#c63a5c"/></g>
<g filter="url(#fp)"><rect x="170.0" y="236.5" width="24.0" height="27.0" rx="3.0" fill="#5a5a5a"/><rect x="168.3" y="235.2" width="6.7" height="15.3" rx="2.0" fill="#e2703c"/><rect x="172.9" y="236.2" width="10.2" height="15.4" rx="2.0" fill="#e3b98a"/><rect x="180.1" y="236.2" width="11.2" height="15.4" rx="2.0" fill="#7fbd8a"/><rect x="189.3" y="236.2" width="6.6" height="14.3" rx="2.0" fill="#e3716e"/><ellipse cx="180.5" cy="234.5" rx="2.5" ry="1.5" fill="#6b9a22"/><ellipse cx="189.5" cy="234.8" rx="3.5" ry="1.2" fill="#5f55e3"/><rect x="167.8" y="251.1" width="5.1" height="12.7" rx="2.0" fill="#ede58c"/><rect x="189.3" y="249.5" width="6.6" height="15.4" rx="2.0" fill="#a57de8"/><rect x="172.9" y="251.6" width="9.2" height="14.3" rx="2.0" fill="#c63a5c"/><rect x="180.1" y="251.6" width="11.2" height="14.3" rx="2.0" fill="#d99a3a"/></g>
<g filter="url(#fp)"><ellipse cx="219.4" cy="251.6" rx="15.5" ry="16.0" fill="#6c6c6c"/><ellipse cx="209.5" cy="254.0" rx="4.5" ry="11.5" fill="#e2703c" transform="rotate(15 209.5 254.0)"/><ellipse cx="218.0" cy="250.0" rx="5.0" ry="14.5" fill="#e3716e" transform="rotate(15 218.0 250.0)"/><ellipse cx="226.5" cy="248.0" rx="4.5" ry="11.0" fill="#e3b98a" transform="rotate(15 226.5 248.0)"/><ellipse cx="232.0" cy="246.0" rx="3.0" ry="7.0" fill="#5f55e3" transform="rotate(15 232.0 246.0)"/><ellipse cx="222.0" cy="262.0" rx="5.5" ry="4.5" fill="#e2703c"/><ellipse cx="208.5" cy="262.0" rx="3.5" ry="3.0" fill="#e3b98a"/><ellipse cx="232.5" cy="258.0" rx="1.5" ry="3.0" fill="#5fd43a"/></g>
<g filter="url(#fp)"><ellipse cx="258.3" cy="252.2" rx="15.4" ry="15.4" fill="#6c6c6c"/><ellipse cx="248.0" cy="245.0" rx="5.5" ry="7.5" fill="#3c1008" transform="rotate(30 248.0 245.0)"/><ellipse cx="253.0" cy="249.0" rx="4.5" ry="13.5" fill="#5fd43a" transform="rotate(30 253.0 249.0)"/><ellipse cx="263.5" cy="248.0" rx="3.5" ry="9.5" fill="#6c6c6c" transform="rotate(30 263.5 248.0)"/><ellipse cx="268.5" cy="249.0" rx="4.0" ry="9.5" fill="#e2703c" transform="rotate(30 268.5 249.0)"/><ellipse cx="249.0" cy="258.5" rx="4.0" ry="5.0" fill="#6b9a22"/><ellipse cx="257.5" cy="261.0" rx="5.0" ry="5.0" fill="#5f55e3"/><ellipse cx="265.5" cy="260.5" rx="5.0" ry="5.5" fill="#e3b98a"/><ellipse cx="272.0" cy="257.0" rx="1.8" ry="5.0" fill="#d9607a"/></g>
<g filter="url(#fp)"><ellipse cx="302.0" cy="249.0" rx="21.0" ry="15.0" fill="#505050"/><polygon points="277.8,236.5 283.0,231.5 290.0,230.7 295.0,233.0 294.9,240.0 288.0,245.9 281.0,243.0" fill="#7fbd8a"/><polygon points="302.5,232.0 308.0,230.7 315.8,232.5 314.0,238.3 305.0,238.3" fill="#e3b98a"/><ellipse cx="294.5" cy="259.5" rx="3.5" ry="3.5" fill="#7fbd8a"/><polygon points="298.7,236.0 306.0,234.5 314.0,236.0 320.0,235.5 324.3,240.0 323.5,248.0 319.0,255.0 314.0,262.0 306.0,265.8 299.5,262.0 298.0,250.0" fill="#5f55e3"/><polygon points="281.6,242.0 286.0,236.0 293.0,235.4 300.0,238.0 306.3,244.0 306.0,254.0 302.0,262.0 296.0,265.8 290.0,261.0 288.0,252.0 283.0,249.0" fill="#e3716e"/></g>
<g filter="url(#fp)"><rect x="42.0" y="299.5" width="27.0" height="30.5" rx="3.0" fill="#5a5a5a"/><ellipse cx="43.0" cy="300.5" rx="3.5" ry="3.5" fill="#6c6c6c"/><ellipse cx="66.0" cy="305.5" rx="5.5" ry="8.0" fill="#7fbd8a"/><ellipse cx="47.5" cy="305.5" rx="6.5" ry="8.0" fill="#5f55e3"/><ellipse cx="57.0" cy="305.5" rx="7.5" ry="8.8" fill="#e3716e"/><ellipse cx="45.5" cy="323.0" rx="5.8" ry="8.8" fill="#c63a5c"/><ellipse cx="65.0" cy="322.5" rx="6.0" ry="8.5" fill="#3a168c"/><ellipse cx="55.5" cy="323.5" rx="7.2" ry="8.8" fill="#ede58c"/><ellipse cx="70.0" cy="323.0" rx="1.3" ry="3.2" fill="#3ee07c"/><ellipse cx="41.5" cy="314.5" rx="2.0" ry="2.0" fill="#6b9a22"/></g>
<g filter="url(#fp)"><ellipse cx="105.0" cy="317.0" rx="21.0" ry="14.5" fill="#505050"/><polygon points="84.2,312.0 87.0,304.0 92.0,301.5 100.0,301.0 104.6,305.0 104.6,318.0 100.0,323.4 88.0,323.4 84.2,318.0" fill="#6c6c6c"/><ellipse cx="96.0" cy="302.5" rx="4.5" ry="1.8" fill="#6b9a22"/><polygon points="106.1,316.1 115.0,315.0 124.0,317.0 128.0,322.0 125.0,330.0 118.0,332.9 110.0,332.9 106.1,326.0" fill="#7fbd8a"/><polygon points="82.0,325.0 86.0,320.5 95.0,320.0 103.2,322.0 103.2,330.0 96.0,332.9 86.0,332.9" fill="#e3716e"/><polygon points="93.7,309.0 98.0,303.0 105.0,300.1 115.0,300.5 121.0,303.0 123.6,310.0 121.0,318.0 113.0,322.0 107.0,326.3 100.0,325.0 95.0,319.0" fill="#3ee07c"/><ellipse cx="122.8" cy="314.3" rx="2.0" ry="3.3" fill="#6b9a22"/></g>
<g filter="url(#fp)"><ellipse cx="170.0" cy="311.0" rx="22.0" ry="13.0" fill="#505050"/><polygon points="132.2,302.6 138.8,299.3 147.5,300.4 156.3,303.7 160.7,308.1 154.1,314.7 160.7,325.6 163.9,333.3 158.5,333.3 151.9,323.4 145.3,314.7 136.6,308.1" fill="#7fbd8a"/><polygon points="144.2,294.9 154.1,293.9 160.7,299.3 165.0,296.0 173.8,293.9 178.2,299.3 169.4,304.8 160.7,303.7 151.9,300.4" fill="#e3716e"/><polygon points="171.6,294.9 177.1,291.7 182.6,294.9 184.7,299.3 193.5,301.5 200.1,305.9 200.1,312.5 193.5,313.6 186.9,308.1 180.4,305.9 173.8,303.7" fill="#5f55e3"/><polygon points="150.8,312.5 158.5,305.9 169.4,304.8 180.4,300.4 186.9,299.3 191.3,305.9 190.2,316.8 184.7,320.1 180.4,316.8 176.0,325.6 171.6,331.1 165.0,332.2 160.7,325.6 154.1,319.0" fill="#e3b98a"/><ellipse cx="181.0" cy="315.0" rx="1.8" ry="1.8" fill="#5f55e3"/><ellipse cx="167.0" cy="330.0" rx="1.8" ry="1.8" fill="#5f55e3"/></g>
<g filter="url(#fp)"><ellipse cx="240.0" cy="312.0" rx="28.0" ry="16.0" fill="#505050"/><polygon points="235.1,290.6 241.7,288.4 246.0,292.8 248.2,299.3 243.9,301.5 238.4,297.1" fill="#6b9a22"/><polygon points="250.4,299.3 261.4,296.0 272.3,298.2 274.5,302.6 270.1,303.7 259.2,302.6" fill="#6b9a22"/><polygon points="213.2,299.3 222.0,296.0 232.9,292.8 239.5,297.1 235.1,303.7 224.2,305.9 215.4,308.1" fill="#e2703c"/><ellipse cx="210.0" cy="313.0" rx="3.0" ry="4.0" fill="#e2703c"/><polygon points="207.7,308.1 217.6,303.7 230.7,301.5 241.7,303.7 248.2,308.1 249.3,319.0 246.0,327.8 237.3,330.0 228.5,325.6 219.8,321.2 211.0,316.8" fill="#e3716e"/><polygon points="240.6,305.9 248.2,303.7 261.4,297.1 270.1,301.5 273.4,308.1 270.1,316.8 261.4,320.1 252.6,327.8 248.2,333.3 241.7,332.2 243.9,323.4 248.2,314.7" fill="#3ee07c"/><ellipse cx="243.5" cy="329.0" rx="2.5" ry="2.5" fill="#6b9a22"/></g>
<g filter="url(#fp)"><ellipse cx="303.5" cy="306.5" rx="21.5" ry="25.5" fill="#505050"/><polygon points="295.7,280.7 299.7,279.5 303.6,281.5 300.0,283.5" fill="#6b9a22"/><polygon points="285.5,286.2 289.4,283.1 296.5,282.3 302.8,283.1 302.0,289.4 296.5,294.1 290.2,296.5 285.5,298.1 284.7,291.8" fill="#6c6c6c"/><polygon points="318.6,293.3 323.3,291.8 325.7,296.5 324.1,301.2 320.1,302.0 318.0,297.0" fill="#6b9a22"/><polygon points="282.3,303.6 285.5,301.2 288.6,303.6 287.0,307.5 283.1,308.3" fill="#e3716e"/><ellipse cx="283.1" cy="317.0" rx="1.5" ry="3.2" fill="#ede58c"/><polygon points="313.8,315.4 318.6,313.8 321.7,317.0 320.9,324.9 317.8,329.6 312.3,332.8 304.4,332.8 302.8,328.8 309.1,324.9 313.1,321.7" fill="#c63a5c"/><polygon points="287.0,316.2 294.1,314.6 298.1,317.0 302.8,313.8 309.9,314.6 314.6,317.8 313.8,323.3 307.5,327.2 302.0,331.2 294.1,332.0 288.6,329.6 287.0,323.3" fill="#3a168c"/><polygon points="301.2,302.8 307.5,302.0 313.8,302.8 320.1,302.0 324.9,305.2 324.9,309.9 320.1,313.1 313.8,314.6 307.5,313.8 302.0,312.3 300.4,308.3" fill="#7fbd8a"/><polygon points="279.9,309.9 283.9,306.0 290.2,305.2 298.1,306.0 301.2,309.9 299.7,313.8 296.5,318.6 293.3,317.0 287.8,313.8 282.3,313.1" fill="#e3b98a"/><polygon points="296.5,291.0 302.8,282.3 309.1,281.5 316.2,283.1 319.4,289.4 317.8,296.5 313.1,302.0 309.1,303.6 306.0,300.4 302.0,299.7 298.9,302.0 294.9,306.0 289.4,302.8 287.0,298.1 288.6,294.9" fill="#3ee07c"/></g>
<text x="43.8" y="56.0" font-size="4.6" font-weight="bold" text-anchor="middle" fill="#111">RBP</text>
<text x="60.6" y="56.0" font-size="4.6" font-weight="bold" text-anchor="middle" fill="#111">RNAse</text>
<text x="60.6" y="61.0" font-size="4.6" font-weight="bold" text-anchor="middle" fill="#111">III</text>
<text x="79.9" y="56.0" font-size="4.6" font-weight="bold" text-anchor="middle" fill="#111">SERCA</text>
<text x="101.0" y="56.0" font-size="4.6" font-weight="bold" text-anchor="middle" fill="#111">SARS</text>
<text x="101.0" y="61.0" font-size="4.6" font-weight="bold" text-anchor="middle" fill="#111">Spike</text>
<text x="128.9" y="56.0" font-size="4.6" font-weight="bold" text-anchor="middle" fill="#111">CDC48</text>
<text x="156.1" y="56.0" font-size="4.6" font-weight="bold" text-anchor="middle" fill="#111">SARS2</text>
<text x="156.1" y="61.0" font-size="4.6" font-weight="bold" text-anchor="middle" fill="#111">Spike</text>
<text x="186.4" y="56.0" font-size="4.6" font-weight="bold" text-anchor="middle" fill="#111">DNAPKcs</text>
<text x="217.0" y="56.0" font-size="4.6" font-weight="bold" text-anchor="middle" fill="#111">MCM</text>
<text x="217.0" y="61.0" font-size="4.6" font-weight="bold" text-anchor="middle" fill="#111">6mer</text>
<text x="245.1" y="56.0" font-size="4.6" font-weight="bold" text-anchor="middle" fill="#111">MERS</text>
<text x="245.1" y="61.0" font-size="4.6" font-weight="bold" text-anchor="middle" fill="#111">Spike</text>
<text x="279.6" y="56.0" font-size="4.6" font-weight="bold" text-anchor="middle" fill="#111">KCNMA</text>
<text x="312.1" y="56.0" font-size="4.6" font-weight="bold" text-anchor="middle" fill="#111">ABO1</text>
<text x="50.0" y="103.7" font-size="4.6" font-weight="bold" text-anchor="middle" fill="#111">ClpB</text>
<text x="80.2" y="103.7" font-size="4.6" font-weight="bold" text-anchor="middle" fill="#111">ClpA</text>
<text x="110.6" y="103.7" font-size="4.6" font-weight="bold" text-anchor="middle" fill="#111">SLO</text>
<text x="140.0" y="102.6" font-size="4.6" font-weight="bold" text-anchor="middle" fill="#111">GroEL</text>
<text x="140.0" y="107.6" font-size="4.6" font-weight="bold" text-anchor="middle" fill="#111">7mer</text>
<text x="173.0" y="102.6" font-size="4.6" font-weight="bold" text-anchor="middle" fill="#111">sc_TRiC</text>
<text x="173.0" y="107.6" font-size="4.6" font-weight="bold" text-anchor="middle" fill="#111">8mer</text>
<text x="208.9" y="102.6" font-size="4.6" font-weight="bold" text-anchor="middle" fill="#111">HSP60</text>
<text x="208.9" y="107.6" font-size="4.6" font-weight="bold" text-anchor="middle" fill="#111">7mer</text>
<text x="243.9" y="102.6" font-size="4.6" font-weight="bold" text-anchor="middle" fill="#111">hs_TRiC</text>
<text x="243.9" y="107.6" font-size="4.6" font-weight="bold" text-anchor="middle" fill="#111">8mer</text>
<text x="275.9" y="103.7" font-size="4.6" font-weight="bold" text-anchor="middle" fill="#111">ACLY</text>
<text x="309.4" y="102.6" font-size="4.6" font-weight="bold" text-anchor="middle" fill="#111">VCP</text>
<text x="309.4" y="107.6" font-size="4.6" font-weight="bold" text-anchor="middle" fill="#111">6mer</text>
<text x="53.4" y="161.5" font-size="4.6" font-weight="bold" text-anchor="middle" fill="#111">Portal</text>
<text x="86.1" y="161.5" font-size="4.6" font-weight="bold" text-anchor="middle" fill="#111">AFG2</text>
<text x="121.1" y="161.5" font-size="4.6" font-weight="bold" text-anchor="middle" fill="#111">mTOR</text>
<text x="156.1" y="161.5" font-size="4.6" font-weight="bold" text-anchor="middle" fill="#111">LRRC8A</text>
<text x="186.7" y="161.5" font-size="4.6" font-weight="bold" text-anchor="middle" fill="#111">TRPM7</text>
<text x="221.3" y="159.7" font-size="4.6" font-weight="bold" text-anchor="middle" fill="#111">ClpA/P</text>
<text x="221.3" y="164.7" font-size="4.6" font-weight="bold" text-anchor="middle" fill="#111">13mer</text>
<text x="254.0" y="161.5" font-size="4.6" font-weight="bold" text-anchor="middle" fill="#111">LONP1</text>
<text x="282.9" y="161.5" font-size="4.6" font-weight="bold" text-anchor="middle" fill="#111">gp12</text>
<text x="312.8" y="161.5" font-size="4.6" font-weight="bold" text-anchor="middle" fill="#111">ms_ATPs</text>
<text x="53.5" y="216.8" font-size="4.6" font-weight="bold" text-anchor="middle" fill="#111">P1234</text>
<text x="110.6" y="216.8" font-size="4.6" font-weight="bold" text-anchor="middle" fill="#111">Nf1</text>
<text x="156.1" y="216.8" font-size="4.6" font-weight="bold" text-anchor="middle" fill="#111">ab_ATPs</text>
<text x="194.9" y="216.8" font-size="4.6" font-weight="bold" text-anchor="middle" fill="#111">A2M</text>
<text x="233.4" y="216.8" font-size="4.6" font-weight="bold" text-anchor="middle" fill="#111">sc_ATPs</text>
<text x="264.9" y="216.8" font-size="4.6" font-weight="bold" text-anchor="middle" fill="#111">TRPM2</text>
<text x="306.5" y="216.8" font-size="4.6" font-weight="bold" text-anchor="middle" fill="#111">MEC1</text>
<text x="51.0" y="277.6" font-size="4.6" font-weight="bold" text-anchor="middle" fill="#111">V-ATPs</text>
<text x="82.4" y="275.5" font-size="4.6" font-weight="bold" text-anchor="middle" fill="#111">MCM</text>
<text x="82.4" y="280.5" font-size="4.6" font-weight="bold" text-anchor="middle" fill="#111">12mer</text>
<text x="116.0" y="275.5" font-size="4.6" font-weight="bold" text-anchor="middle" fill="#111">ClpA/P</text>
<text x="116.0" y="280.5" font-size="4.6" font-weight="bold" text-anchor="middle" fill="#111">20mer</text>
<text x="148.0" y="275.5" font-size="4.6" font-weight="bold" text-anchor="middle" fill="#111">GroEL</text>
<text x="148.0" y="280.5" font-size="4.6" font-weight="bold" text-anchor="middle" fill="#111">14mer</text>
<text x="182.0" y="275.5" font-size="4.6" font-weight="bold" text-anchor="middle" fill="#111">HSP60</text>
<text x="182.0" y="280.5" font-size="4.6" font-weight="bold" text-anchor="middle" fill="#111">14mer</text>
<text x="219.4" y="275.5" font-size="4.6" font-weight="bold" text-anchor="middle" fill="#111">sc_TRiC</text>
<text x="219.4" y="280.5" font-size="4.6" font-weight="bold" text-anchor="middle" fill="#111">16mer</text>
<text x="257.9" y="275.5" font-size="4.6" font-weight="bold" text-anchor="middle" fill="#111">hs_TRiC</text>
<text x="257.9" y="280.5" font-size="4.6" font-weight="bold" text-anchor="middle" fill="#111">16mer</text>
<text x="301.6" y="273.4" font-size="4.6" font-weight="bold" text-anchor="middle" fill="#111">ITPR3</text>
<text x="53.9" y="338.4" font-size="4.6" font-weight="bold" text-anchor="middle" fill="#111">VCP</text>
<text x="53.9" y="343.4" font-size="4.6" font-weight="bold" text-anchor="middle" fill="#111">12mer</text>
<text x="104.0" y="338.4" font-size="4.6" font-weight="bold" text-anchor="middle" fill="#111">FAS</text>
<text x="104.0" y="343.4" font-size="4.6" font-weight="bold" text-anchor="middle" fill="#111">6mer</text>
<text x="165.0" y="341.5" font-size="4.6" font-weight="bold" text-anchor="middle" fill="#111">RyR1</text>
<text x="241.6" y="341.5" font-size="4.6" font-weight="bold" text-anchor="middle" fill="#111">RyR2</text>
<text x="301.1" y="338.4" font-size="4.6" font-weight="bold" text-anchor="middle" fill="#111">FAS</text>
<text x="301.1" y="343.4" font-size="4.6" font-weight="bold" text-anchor="middle" fill="#111">12mer</text>
<text x="402.70" y="17.90" font-size="5.2" text-anchor="end" fill="#222">25.000</text>
<line x1="407.60" y1="29.34" x2="677.30" y2="29.34" stroke="#e6e6e6" stroke-width="0.6"/>
<text x="402.70" y="31.14" font-size="5.2" text-anchor="end" fill="#222">20.000</text>
<line x1="407.60" y1="42.58" x2="677.30" y2="42.58" stroke="#e6e6e6" stroke-width="0.6"/>
<text x="402.70" y="44.38" font-size="5.2" text-anchor="end" fill="#222">15.000</text>
<line x1="407.60" y1="55.82" x2="677.30" y2="55.82" stroke="#e6e6e6" stroke-width="0.6"/>
<text x="402.70" y="57.62" font-size="5.2" text-anchor="end" fill="#222">10.000</text>
<line x1="407.60" y1="69.06" x2="677.30" y2="69.06" stroke="#e6e6e6" stroke-width="0.6"/>
<text x="402.70" y="70.86" font-size="5.2" text-anchor="end" fill="#222">5.000</text>
<text x="402.70" y="84.10" font-size="5.2" text-anchor="end" fill="#222">0</text>
<line x1="407.60" y1="16.10" x2="677.30" y2="16.10" stroke="#b3b3b3" stroke-width="0.8"/>
<line x1="677.30" y1="16.10" x2="677.30" y2="82.30" stroke="#b3b3b3" stroke-width="0.8"/>
<line x1="407.60" y1="16.10" x2="407.60" y2="82.70" stroke="#5a5a5a" stroke-width="0.9"/>
<line x1="407.60" y1="82.30" x2="677.30" y2="82.30" stroke="#5a5a5a" stroke-width="0.9"/>
<text x="411.30" y="24.50" font-size="7" text-anchor="start" fill="#000">(1)</text>
<text x="494.50" y="24.00" font-size="7" text-anchor="middle" fill="#000">Number of residues (-)</text>
<rect x="409.37" y="74.75" width="2.30" height="7.55" fill="#3e66b3"/>
<rect x="415.11" y="74.73" width="2.30" height="7.57" fill="#3e66b3"/>
<rect x="420.85" y="74.67" width="2.30" height="7.63" fill="#3e66b3"/>
<rect x="426.58" y="73.96" width="2.30" height="8.34" fill="#3e66b3"/>
<rect x="432.32" y="73.91" width="2.30" height="8.39" fill="#3e66b3"/>
<rect x="438.06" y="73.48" width="2.30" height="8.82" fill="#3e66b3"/>
<rect x="443.80" y="73.46" width="2.30" height="8.84" fill="#3e66b3"/>
<rect x="449.54" y="73.27" width="2.30" height="9.03" fill="#3e66b3"/>
<rect x="455.28" y="73.03" width="2.30" height="9.27" fill="#3e66b3"/>
<rect x="461.01" y="72.85" width="2.30" height="9.45" fill="#3e66b3"/>
<rect x="466.75" y="72.63" width="2.30" height="9.67" fill="#3e66b3"/>
<rect x="472.49" y="72.42" width="2.30" height="9.88" fill="#3e66b3"/>
<rect x="478.23" y="72.34" width="2.30" height="9.96" fill="#3e66b3"/>
<rect x="483.97" y="72.21" width="2.30" height="10.09" fill="#3e66b3"/>
<rect x="489.71" y="71.79" width="2.30" height="10.51" fill="#3e66b3"/>
<rect x="495.44" y="71.18" width="2.30" height="11.12" fill="#3e66b3"/>
<rect x="501.18" y="70.75" width="2.30" height="11.55" fill="#3e66b3"/>
<rect x="506.92" y="70.54" width="2.30" height="11.76" fill="#3e66b3"/>
<rect x="512.66" y="70.54" width="2.30" height="11.76" fill="#3e66b3"/>
<rect x="518.40" y="70.54" width="2.30" height="11.76" fill="#3e66b3"/>
<rect x="524.14" y="70.54" width="2.30" height="11.76" fill="#3e66b3"/>
<rect x="529.87" y="70.54" width="2.30" height="11.76" fill="#3e66b3"/>
<rect x="535.61" y="70.38" width="2.30" height="11.92" fill="#3e66b3"/>
<rect x="541.35" y="70.33" width="2.30" height="11.97" fill="#3e66b3"/>
<rect x="547.09" y="70.38" width="2.30" height="11.92" fill="#3e66b3"/>
<rect x="552.83" y="70.38" width="2.30" height="11.92" fill="#3e66b3"/>
<rect x="558.56" y="70.38" width="2.30" height="11.92" fill="#3e66b3"/>
<rect x="564.30" y="69.99" width="2.30" height="12.31" fill="#3e66b3"/>
<rect x="570.04" y="69.99" width="2.30" height="12.31" fill="#3e66b3"/>
<rect x="575.78" y="69.59" width="2.30" height="12.71" fill="#3e66b3"/>
<rect x="581.52" y="69.54" width="2.30" height="12.76" fill="#3e66b3"/>
<rect x="587.26" y="68.95" width="2.30" height="13.35" fill="#3e66b3"/>
<rect x="592.99" y="68.93" width="2.30" height="13.37" fill="#3e66b3"/>
<rect x="598.73" y="68.56" width="2.30" height="13.74" fill="#3e66b3"/>
<rect x="604.47" y="67.31" width="2.30" height="14.99" fill="#3e66b3"/>
<rect x="610.21" y="66.28" width="2.30" height="16.02" fill="#3e66b3"/>
<rect x="615.95" y="66.25" width="2.30" height="16.05" fill="#3e66b3"/>
<rect x="621.69" y="63.42" width="2.30" height="18.88" fill="#3e66b3"/>
<rect x="627.42" y="63.21" width="2.30" height="19.09" fill="#3e66b3"/>
<rect x="633.16" y="62.81" width="2.30" height="19.49" fill="#3e66b3"/>
<rect x="638.90" y="62.39" width="2.30" height="19.91" fill="#3e66b3"/>
<rect x="644.64" y="61.38" width="2.30" height="20.92" fill="#3e66b3"/>
<rect x="650.38" y="60.32" width="2.30" height="21.98" fill="#3e66b3"/>
<rect x="656.12" y="60.14" width="2.30" height="22.16" fill="#3e66b3"/>
<rect x="661.85" y="40.83" width="2.30" height="41.47" fill="#3e66b3"/>
<rect x="667.59" y="38.16" width="2.30" height="44.14" fill="#3e66b3"/>
<rect x="673.33" y="27.27" width="2.30" height="55.03" fill="#3e66b3"/>
<text x="402.70" y="95.40" font-size="5.2" text-anchor="end" fill="#222">32</text>
<line x1="407.60" y1="111.50" x2="677.30" y2="111.50" stroke="#e6e6e6" stroke-width="0.6"/>
<text x="402.70" y="113.30" font-size="5.2" text-anchor="end" fill="#222">24</text>
<line x1="407.60" y1="129.40" x2="677.30" y2="129.40" stroke="#e6e6e6" stroke-width="0.6"/>
<text x="402.70" y="131.20" font-size="5.2" text-anchor="end" fill="#222">16</text>
<line x1="407.60" y1="147.30" x2="677.30" y2="147.30" stroke="#e6e6e6" stroke-width="0.6"/>
<text x="402.70" y="149.10" font-size="5.2" text-anchor="end" fill="#222">8</text>
<text x="402.70" y="167.00" font-size="5.2" text-anchor="end" fill="#222">0</text>
<line x1="407.60" y1="93.60" x2="677.30" y2="93.60" stroke="#b3b3b3" stroke-width="0.8"/>
<line x1="677.30" y1="93.60" x2="677.30" y2="165.20" stroke="#b3b3b3" stroke-width="0.8"/>
<line x1="407.60" y1="93.60" x2="407.60" y2="165.60" stroke="#5a5a5a" stroke-width="0.9"/>
<line x1="407.60" y1="165.20" x2="677.30" y2="165.20" stroke="#5a5a5a" stroke-width="0.9"/>
<text x="411.30" y="102.00" font-size="7" text-anchor="start" fill="#000">(2)</text>
<text x="494.50" y="101.50" font-size="7" text-anchor="middle" fill="#000">RMSD (Å)</text>
<rect x="409.02" y="134.99" width="1.80" height="30.21" fill="#84c65a" stroke="#4d7a33" stroke-width="0.35"/>
<line x1="409.92" y1="132.08" x2="409.92" y2="137.90" stroke="#333" stroke-width="0.4"/>
<line x1="409.42" y1="132.08" x2="410.42" y2="132.08" stroke="#333" stroke-width="0.3"/>
<rect x="410.97" y="162.96" width="1.40" height="2.24" fill="#f0a500" stroke="#9a6a00" stroke-width="0.3"/>
<rect x="414.76" y="146.41" width="1.80" height="18.79" fill="#84c65a" stroke="#4d7a33" stroke-width="0.35"/>
<line x1="415.66" y1="142.38" x2="415.66" y2="150.43" stroke="#333" stroke-width="0.4"/>
<line x1="415.16" y1="142.38" x2="416.16" y2="142.38" stroke="#333" stroke-width="0.3"/>
<rect x="416.71" y="162.96" width="1.40" height="2.24" fill="#f0a500" stroke="#9a6a00" stroke-width="0.3"/>
<rect x="420.50" y="131.19" width="1.80" height="34.01" fill="#84c65a" stroke="#4d7a33" stroke-width="0.35"/>
<line x1="421.40" y1="126.72" x2="421.40" y2="135.66" stroke="#333" stroke-width="0.4"/>
<line x1="420.90" y1="126.72" x2="421.90" y2="126.72" stroke="#333" stroke-width="0.3"/>
<rect x="422.45" y="163.19" width="1.40" height="2.01" fill="#f0a500" stroke="#9a6a00" stroke-width="0.3"/>
<rect x="426.23" y="147.52" width="1.80" height="17.68" fill="#84c65a" stroke="#4d7a33" stroke-width="0.35"/>
<line x1="427.13" y1="143.50" x2="427.13" y2="151.55" stroke="#333" stroke-width="0.4"/>
<line x1="426.63" y1="143.50" x2="427.63" y2="143.50" stroke="#333" stroke-width="0.3"/>
<rect x="428.18" y="163.19" width="1.40" height="2.01" fill="#f0a500" stroke="#9a6a00" stroke-width="0.3"/>
<rect x="431.97" y="147.52" width="1.80" height="17.68" fill="#84c65a" stroke="#4d7a33" stroke-width="0.35"/>
<line x1="432.87" y1="144.39" x2="432.87" y2="150.66" stroke="#333" stroke-width="0.4"/>
<line x1="432.37" y1="144.39" x2="433.37" y2="144.39" stroke="#333" stroke-width="0.3"/>
<rect x="433.92" y="162.96" width="1.40" height="2.24" fill="#f0a500" stroke="#9a6a00" stroke-width="0.3"/>
<rect x="437.71" y="132.76" width="1.80" height="32.44" fill="#84c65a" stroke="#4d7a33" stroke-width="0.35"/>
<line x1="438.61" y1="129.40" x2="438.61" y2="136.11" stroke="#333" stroke-width="0.4"/>
<line x1="438.11" y1="129.40" x2="439.11" y2="129.40" stroke="#333" stroke-width="0.3"/>
<rect x="439.66" y="162.74" width="1.40" height="2.46" fill="#f0a500" stroke="#9a6a00" stroke-width="0.3"/>
<rect x="443.45" y="155.13" width="1.80" height="10.07" fill="#84c65a" stroke="#4d7a33" stroke-width="0.35"/>
<rect x="445.40" y="163.19" width="1.40" height="2.01" fill="#f0a500" stroke="#9a6a00" stroke-width="0.3"/>
<rect x="449.19" y="146.18" width="1.80" height="19.02" fill="#84c65a" stroke="#4d7a33" stroke-width="0.35"/>
<rect x="451.14" y="163.19" width="1.40" height="2.01" fill="#f0a500" stroke="#9a6a00" stroke-width="0.3"/>
<rect x="454.93" y="153.12" width="1.80" height="12.08" fill="#84c65a" stroke="#4d7a33" stroke-width="0.35"/>
<rect x="456.88" y="163.19" width="1.40" height="2.01" fill="#f0a500" stroke="#9a6a00" stroke-width="0.3"/>
<rect x="460.66" y="145.51" width="1.80" height="19.69" fill="#84c65a" stroke="#4d7a33" stroke-width="0.35"/>
<rect x="462.61" y="163.19" width="1.40" height="2.01" fill="#f0a500" stroke="#9a6a00" stroke-width="0.3"/>
<rect x="466.40" y="154.68" width="1.80" height="10.52" fill="#84c65a" stroke="#4d7a33" stroke-width="0.35"/>
<rect x="468.35" y="163.19" width="1.40" height="2.01" fill="#f0a500" stroke="#9a6a00" stroke-width="0.3"/>
<rect x="472.14" y="131.19" width="1.80" height="34.01" fill="#84c65a" stroke="#4d7a33" stroke-width="0.35"/>
<rect x="474.09" y="163.41" width="1.40" height="1.79" fill="#f0a500" stroke="#9a6a00" stroke-width="0.3"/>
<rect x="477.88" y="129.18" width="1.80" height="36.02" fill="#84c65a" stroke="#4d7a33" stroke-width="0.35"/>
<line x1="478.78" y1="124.48" x2="478.78" y2="133.87" stroke="#333" stroke-width="0.4"/>
<line x1="478.28" y1="124.48" x2="479.28" y2="124.48" stroke="#333" stroke-width="0.3"/>
<rect x="479.83" y="162.96" width="1.40" height="2.24" fill="#f0a500" stroke="#9a6a00" stroke-width="0.3"/>
<rect x="483.62" y="130.29" width="1.80" height="34.90" fill="#84c65a" stroke="#4d7a33" stroke-width="0.35"/>
<rect x="485.57" y="163.19" width="1.40" height="2.01" fill="#f0a500" stroke="#9a6a00" stroke-width="0.3"/>
<rect x="489.36" y="137.90" width="1.80" height="27.30" fill="#84c65a" stroke="#4d7a33" stroke-width="0.35"/>
<line x1="490.26" y1="134.32" x2="490.26" y2="141.48" stroke="#333" stroke-width="0.4"/>
<line x1="489.76" y1="134.32" x2="490.76" y2="134.32" stroke="#333" stroke-width="0.3"/>
<rect x="491.31" y="163.19" width="1.40" height="2.01" fill="#f0a500" stroke="#9a6a00" stroke-width="0.3"/>
<rect x="495.09" y="129.18" width="1.80" height="36.02" fill="#84c65a" stroke="#4d7a33" stroke-width="0.35"/>
<line x1="495.99" y1="124.03" x2="495.99" y2="134.32" stroke="#333" stroke-width="0.4"/>
<line x1="495.49" y1="124.03" x2="496.49" y2="124.03" stroke="#333" stroke-width="0.3"/>
<rect x="497.04" y="162.96" width="1.40" height="2.24" fill="#f0a500" stroke="#9a6a00" stroke-width="0.3"/>
<rect x="500.83" y="143.94" width="1.80" height="21.26" fill="#84c65a" stroke="#4d7a33" stroke-width="0.35"/>
<rect x="502.78" y="163.19" width="1.40" height="2.01" fill="#f0a500" stroke="#9a6a00" stroke-width="0.3"/>
<rect x="506.57" y="149.98" width="1.80" height="15.21" fill="#84c65a" stroke="#4d7a33" stroke-width="0.35"/>
<rect x="508.52" y="163.19" width="1.40" height="2.01" fill="#f0a500" stroke="#9a6a00" stroke-width="0.3"/>
<rect x="512.31" y="141.03" width="1.80" height="24.16" fill="#84c65a" stroke="#4d7a33" stroke-width="0.35"/>
<rect x="514.26" y="163.19" width="1.40" height="2.01" fill="#f0a500" stroke="#9a6a00" stroke-width="0.3"/>
<rect x="518.05" y="146.41" width="1.80" height="18.79" fill="#84c65a" stroke="#4d7a33" stroke-width="0.35"/>
<line x1="518.95" y1="145.06" x2="518.95" y2="147.75" stroke="#333" stroke-width="0.4"/>
<line x1="518.45" y1="145.06" x2="519.45" y2="145.06" stroke="#333" stroke-width="0.3"/>
<rect x="520.00" y="163.19" width="1.40" height="2.01" fill="#f0a500" stroke="#9a6a00" stroke-width="0.3"/>
<rect x="523.79" y="151.55" width="1.80" height="13.65" fill="#84c65a" stroke="#4d7a33" stroke-width="0.35"/>
<rect x="525.74" y="163.19" width="1.40" height="2.01" fill="#f0a500" stroke="#9a6a00" stroke-width="0.3"/>
<rect x="529.52" y="100.31" width="1.80" height="64.89" fill="#84c65a" stroke="#4d7a33" stroke-width="0.35"/>
<rect x="531.47" y="161.84" width="1.40" height="3.36" fill="#f0a500" stroke="#9a6a00" stroke-width="0.3"/>
<rect x="535.26" y="154.24" width="1.80" height="10.96" fill="#84c65a" stroke="#4d7a33" stroke-width="0.35"/>
<rect x="537.21" y="163.19" width="1.40" height="2.01" fill="#f0a500" stroke="#9a6a00" stroke-width="0.3"/>
<rect x="541.00" y="145.06" width="1.80" height="20.14" fill="#84c65a" stroke="#4d7a33" stroke-width="0.35"/>
<rect x="542.95" y="163.19" width="1.40" height="2.01" fill="#f0a500" stroke="#9a6a00" stroke-width="0.3"/>
<rect x="546.74" y="141.03" width="1.80" height="24.16" fill="#84c65a" stroke="#4d7a33" stroke-width="0.35"/>
<rect x="548.69" y="163.19" width="1.40" height="2.01" fill="#f0a500" stroke="#9a6a00" stroke-width="0.3"/>
<rect x="552.48" y="144.39" width="1.80" height="20.81" fill="#84c65a" stroke="#4d7a33" stroke-width="0.35"/>
<rect x="554.43" y="163.19" width="1.40" height="2.01" fill="#f0a500" stroke="#9a6a00" stroke-width="0.3"/>
<rect x="558.21" y="132.76" width="1.80" height="32.44" fill="#84c65a" stroke="#4d7a33" stroke-width="0.35"/>
<line x1="559.11" y1="131.19" x2="559.11" y2="134.32" stroke="#333" stroke-width="0.4"/>
<line x1="558.61" y1="131.19" x2="559.61" y2="131.19" stroke="#333" stroke-width="0.3"/>
<rect x="560.16" y="162.51" width="1.40" height="2.68" fill="#f0a500" stroke="#9a6a00" stroke-width="0.3"/>
<rect x="563.95" y="156.03" width="1.80" height="9.17" fill="#84c65a" stroke="#4d7a33" stroke-width="0.35"/>
<rect x="565.90" y="163.41" width="1.40" height="1.79" fill="#f0a500" stroke="#9a6a00" stroke-width="0.3"/>
<rect x="569.69" y="113.96" width="1.80" height="51.24" fill="#84c65a" stroke="#4d7a33" stroke-width="0.35"/>
<rect x="571.64" y="163.19" width="1.40" height="2.01" fill="#f0a500" stroke="#9a6a00" stroke-width="0.3"/>
<rect x="575.43" y="130.52" width="1.80" height="34.68" fill="#84c65a" stroke="#4d7a33" stroke-width="0.35"/>
<rect x="577.38" y="160.72" width="1.40" height="4.47" fill="#f0a500" stroke="#9a6a00" stroke-width="0.3"/>
<rect x="581.17" y="120.67" width="1.80" height="44.53" fill="#84c65a" stroke="#4d7a33" stroke-width="0.35"/>
<line x1="582.07" y1="113.51" x2="582.07" y2="127.83" stroke="#333" stroke-width="0.4"/>
<line x1="581.57" y1="113.51" x2="582.57" y2="113.51" stroke="#333" stroke-width="0.3"/>
<rect x="583.12" y="162.51" width="1.40" height="2.68" fill="#f0a500" stroke="#9a6a00" stroke-width="0.3"/>
<rect x="586.91" y="119.11" width="1.80" height="46.09" fill="#84c65a" stroke="#4d7a33" stroke-width="0.35"/>
<line x1="587.81" y1="117.09" x2="587.81" y2="121.12" stroke="#333" stroke-width="0.4"/>
<line x1="587.31" y1="117.09" x2="588.31" y2="117.09" stroke="#333" stroke-width="0.3"/>
<rect x="588.86" y="162.29" width="1.40" height="2.91" fill="#f0a500" stroke="#9a6a00" stroke-width="0.3"/>
<rect x="592.64" y="141.48" width="1.80" height="23.72" fill="#84c65a" stroke="#4d7a33" stroke-width="0.35"/>
<rect x="594.59" y="163.19" width="1.40" height="2.01" fill="#f0a500" stroke="#9a6a00" stroke-width="0.3"/>
<rect x="598.38" y="148.19" width="1.80" height="17.00" fill="#84c65a" stroke="#4d7a33" stroke-width="0.35"/>
<rect x="600.33" y="162.51" width="1.40" height="2.68" fill="#f0a500" stroke="#9a6a00" stroke-width="0.3"/>
<rect x="604.12" y="129.18" width="1.80" height="36.02" fill="#84c65a" stroke="#4d7a33" stroke-width="0.35"/>
<rect x="606.07" y="162.29" width="1.40" height="2.91" fill="#f0a500" stroke="#9a6a00" stroke-width="0.3"/>
<rect x="609.86" y="128.73" width="1.80" height="36.47" fill="#84c65a" stroke="#4d7a33" stroke-width="0.35"/>
<rect x="611.81" y="163.19" width="1.40" height="2.01" fill="#f0a500" stroke="#9a6a00" stroke-width="0.3"/>
<rect x="615.60" y="156.25" width="1.80" height="8.95" fill="#84c65a" stroke="#4d7a33" stroke-width="0.35"/>
<rect x="617.55" y="163.19" width="1.40" height="2.01" fill="#f0a500" stroke="#9a6a00" stroke-width="0.3"/>
<rect x="621.34" y="134.99" width="1.80" height="30.21" fill="#84c65a" stroke="#4d7a33" stroke-width="0.35"/>
<line x1="622.24" y1="132.31" x2="622.24" y2="137.68" stroke="#333" stroke-width="0.4"/>
<line x1="621.74" y1="132.31" x2="622.74" y2="132.31" stroke="#333" stroke-width="0.3"/>
<rect x="623.29" y="163.19" width="1.40" height="2.01" fill="#f0a500" stroke="#9a6a00" stroke-width="0.3"/>
<rect x="627.07" y="137.90" width="1.80" height="27.30" fill="#84c65a" stroke="#4d7a33" stroke-width="0.35"/>
<rect x="629.02" y="163.19" width="1.40" height="2.01" fill="#f0a500" stroke="#9a6a00" stroke-width="0.3"/>
<rect x="632.81" y="125.60" width="1.80" height="39.60" fill="#84c65a" stroke="#4d7a33" stroke-width="0.35"/>
<line x1="633.71" y1="120.67" x2="633.71" y2="130.52" stroke="#333" stroke-width="0.4"/>
<line x1="633.21" y1="120.67" x2="634.21" y2="120.67" stroke="#333" stroke-width="0.3"/>
<rect x="634.76" y="163.19" width="1.40" height="2.01" fill="#f0a500" stroke="#9a6a00" stroke-width="0.3"/>
<rect x="638.55" y="136.34" width="1.80" height="28.86" fill="#84c65a" stroke="#4d7a33" stroke-width="0.35"/>
<line x1="639.45" y1="132.76" x2="639.45" y2="139.92" stroke="#333" stroke-width="0.4"/>
<line x1="638.95" y1="132.76" x2="639.95" y2="132.76" stroke="#333" stroke-width="0.3"/>
<rect x="640.50" y="163.19" width="1.40" height="2.01" fill="#f0a500" stroke="#9a6a00" stroke-width="0.3"/>
<rect x="644.29" y="136.34" width="1.80" height="28.86" fill="#84c65a" stroke="#4d7a33" stroke-width="0.35"/>
<line x1="645.19" y1="132.76" x2="645.19" y2="139.92" stroke="#333" stroke-width="0.4"/>
<line x1="644.69" y1="132.76" x2="645.69" y2="132.76" stroke="#333" stroke-width="0.3"/>
<rect x="646.24" y="163.19" width="1.40" height="2.01" fill="#f0a500" stroke="#9a6a00" stroke-width="0.3"/>
<rect x="650.03" y="142.60" width="1.80" height="22.60" fill="#84c65a" stroke="#4d7a33" stroke-width="0.35"/>
<rect x="651.98" y="163.19" width="1.40" height="2.01" fill="#f0a500" stroke="#9a6a00" stroke-width="0.3"/>
<rect x="655.77" y="154.24" width="1.80" height="10.96" fill="#84c65a" stroke="#4d7a33" stroke-width="0.35"/>
<rect x="657.72" y="163.19" width="1.40" height="2.01" fill="#f0a500" stroke="#9a6a00" stroke-width="0.3"/>
<rect x="661.50" y="156.25" width="1.80" height="8.95" fill="#84c65a" stroke="#4d7a33" stroke-width="0.35"/>
<rect x="663.45" y="162.96" width="1.40" height="2.24" fill="#f0a500" stroke="#9a6a00" stroke-width="0.3"/>
<rect x="667.24" y="148.42" width="1.80" height="16.78" fill="#84c65a" stroke="#4d7a33" stroke-width="0.35"/>
<rect x="669.19" y="162.51" width="1.40" height="2.68" fill="#f0a500" stroke="#9a6a00" stroke-width="0.3"/>
<rect x="672.98" y="154.24" width="1.80" height="10.96" fill="#84c65a" stroke="#4d7a33" stroke-width="0.35"/>
<rect x="674.93" y="163.19" width="1.40" height="2.01" fill="#f0a500" stroke="#9a6a00" stroke-width="0.3"/>
<rect x="623.80" y="96.60" width="2.00" height="2.00" fill="#82c157" stroke="#4d7a33" stroke-width="0.3"/>
<text x="627.90" y="99.40" font-size="4.9" text-anchor="start" fill="#222">Initial RMSD</text>
<rect x="623.80" y="103.30" width="2.00" height="2.00" fill="#f0a500" stroke="#9a6a00" stroke-width="0.3"/>
<text x="627.90" y="106.10" font-size="4.9" text-anchor="start" fill="#222">Convergence RMSD</text>
<text x="402.70" y="178.20" font-size="5.2" text-anchor="end" fill="#222">1,0</text>
<line x1="407.60" y1="189.62" x2="677.30" y2="189.62" stroke="#e6e6e6" stroke-width="0.6"/>
<text x="402.70" y="191.42" font-size="5.2" text-anchor="end" fill="#222">0,8</text>
<line x1="407.60" y1="202.84" x2="677.30" y2="202.84" stroke="#e6e6e6" stroke-width="0.6"/>
<text x="402.70" y="204.64" font-size="5.2" text-anchor="end" fill="#222">0,6</text>
<line x1="407.60" y1="216.06" x2="677.30" y2="216.06" stroke="#e6e6e6" stroke-width="0.6"/>
<text x="402.70" y="217.86" font-size="5.2" text-anchor="end" fill="#222">0,4</text>
<line x1="407.60" y1="229.28" x2="677.30" y2="229.28" stroke="#e6e6e6" stroke-width="0.6"/>
<text x="402.70" y="231.08" font-size="5.2" text-anchor="end" fill="#222">0,2</text>
<text x="402.70" y="244.30" font-size="5.2" text-anchor="end" fill="#222">0,0</text>
<line x1="407.60" y1="176.40" x2="677.30" y2="176.40" stroke="#b3b3b3" stroke-width="0.8"/>
<line x1="677.30" y1="176.40" x2="677.30" y2="242.50" stroke="#b3b3b3" stroke-width="0.8"/>
<line x1="407.60" y1="176.40" x2="407.60" y2="242.90" stroke="#5a5a5a" stroke-width="0.9"/>
<line x1="407.60" y1="242.50" x2="677.30" y2="242.50" stroke="#5a5a5a" stroke-width="0.9"/>
<text x="411.30" y="184.80" font-size="7" text-anchor="start" fill="#000">(3)</text>
<text x="494.50" y="184.30" font-size="7" text-anchor="middle" fill="#000">Collectivity degree (-)</text>
<rect x="409.37" y="231.26" width="2.20" height="11.24" fill="#e8e400" stroke="#7a7a10" stroke-width="0.35"/>
<rect x="415.11" y="190.94" width="2.20" height="51.56" fill="#e8e400" stroke="#7a7a10" stroke-width="0.35"/>
<line x1="416.21" y1="187.64" x2="416.21" y2="194.25" stroke="#444" stroke-width="0.4"/>
<rect x="420.85" y="229.28" width="2.20" height="13.22" fill="#e8e400" stroke="#7a7a10" stroke-width="0.35"/>
<rect x="426.58" y="212.09" width="2.20" height="30.41" fill="#e8e400" stroke="#7a7a10" stroke-width="0.35"/>
<line x1="427.68" y1="204.16" x2="427.68" y2="220.03" stroke="#444" stroke-width="0.4"/>
<rect x="432.32" y="196.23" width="2.20" height="46.27" fill="#e8e400" stroke="#7a7a10" stroke-width="0.35"/>
<line x1="433.42" y1="194.25" x2="433.42" y2="198.21" stroke="#444" stroke-width="0.4"/>
<rect x="438.06" y="230.60" width="2.20" height="11.90" fill="#e8e400" stroke="#7a7a10" stroke-width="0.35"/>
<rect x="443.80" y="207.47" width="2.20" height="35.03" fill="#e8e400" stroke="#7a7a10" stroke-width="0.35"/>
<rect x="449.54" y="207.47" width="2.20" height="35.03" fill="#e8e400" stroke="#7a7a10" stroke-width="0.35"/>
<rect x="455.28" y="200.20" width="2.20" height="42.30" fill="#e8e400" stroke="#7a7a10" stroke-width="0.35"/>
<rect x="461.01" y="200.86" width="2.20" height="41.64" fill="#e8e400" stroke="#7a7a10" stroke-width="0.35"/>
<rect x="466.75" y="208.13" width="2.20" height="34.37" fill="#e8e400" stroke="#7a7a10" stroke-width="0.35"/>
<rect x="472.49" y="205.48" width="2.20" height="37.02" fill="#e8e400" stroke="#7a7a10" stroke-width="0.35"/>
<rect x="478.23" y="222.67" width="2.20" height="19.83" fill="#e8e400" stroke="#7a7a10" stroke-width="0.35"/>
<line x1="479.33" y1="218.70" x2="479.33" y2="226.64" stroke="#444" stroke-width="0.4"/>
<rect x="483.97" y="204.16" width="2.20" height="38.34" fill="#e8e400" stroke="#7a7a10" stroke-width="0.35"/>
<rect x="489.71" y="212.75" width="2.20" height="29.74" fill="#e8e400" stroke="#7a7a10" stroke-width="0.35"/>
<line x1="490.81" y1="208.79" x2="490.81" y2="216.72" stroke="#444" stroke-width="0.4"/>
<rect x="495.44" y="206.15" width="2.20" height="36.35" fill="#e8e400" stroke="#7a7a10" stroke-width="0.35"/>
<line x1="496.54" y1="203.50" x2="496.54" y2="208.79" stroke="#444" stroke-width="0.4"/>
<rect x="501.18" y="223.33" width="2.20" height="19.17" fill="#e8e400" stroke="#7a7a10" stroke-width="0.35"/>
<rect x="506.92" y="228.62" width="2.20" height="13.88" fill="#e8e400" stroke="#7a7a10" stroke-width="0.35"/>
<rect x="512.66" y="194.25" width="2.20" height="48.25" fill="#e8e400" stroke="#7a7a10" stroke-width="0.35"/>
<rect x="518.40" y="192.93" width="2.20" height="49.57" fill="#e8e400" stroke="#7a7a10" stroke-width="0.35"/>
<line x1="519.50" y1="189.62" x2="519.50" y2="196.23" stroke="#444" stroke-width="0.4"/>
<rect x="524.14" y="194.25" width="2.20" height="48.25" fill="#e8e400" stroke="#7a7a10" stroke-width="0.35"/>
<rect x="529.87" y="225.31" width="2.20" height="17.19" fill="#e8e400" stroke="#7a7a10" stroke-width="0.35"/>
<rect x="535.61" y="196.89" width="2.20" height="45.61" fill="#e8e400" stroke="#7a7a10" stroke-width="0.35"/>
<rect x="541.35" y="198.21" width="2.20" height="44.29" fill="#e8e400" stroke="#7a7a10" stroke-width="0.35"/>
<rect x="547.09" y="194.25" width="2.20" height="48.25" fill="#e8e400" stroke="#7a7a10" stroke-width="0.35"/>
<rect x="552.83" y="204.82" width="2.20" height="37.68" fill="#e8e400" stroke="#7a7a10" stroke-width="0.35"/>
<rect x="558.56" y="222.01" width="2.20" height="20.49" fill="#e8e400" stroke="#7a7a10" stroke-width="0.35"/>
<rect x="564.30" y="183.67" width="2.20" height="58.83" fill="#e8e400" stroke="#7a7a10" stroke-width="0.35"/>
<line x1="565.40" y1="182.35" x2="565.40" y2="184.99" stroke="#444" stroke-width="0.4"/>
<rect x="570.04" y="235.23" width="2.20" height="7.27" fill="#e8e400" stroke="#7a7a10" stroke-width="0.35"/>
<rect x="575.78" y="223.33" width="2.20" height="19.17" fill="#e8e400" stroke="#7a7a10" stroke-width="0.35"/>
<rect x="581.52" y="220.03" width="2.20" height="22.47" fill="#e8e400" stroke="#7a7a10" stroke-width="0.35"/>
<line x1="582.62" y1="217.38" x2="582.62" y2="222.67" stroke="#444" stroke-width="0.4"/>
<rect x="587.26" y="218.70" width="2.20" height="23.80" fill="#e8e400" stroke="#7a7a10" stroke-width="0.35"/>
<line x1="588.36" y1="216.72" x2="588.36" y2="220.69" stroke="#444" stroke-width="0.4"/>
<rect x="592.99" y="200.86" width="2.20" height="41.64" fill="#e8e400" stroke="#7a7a10" stroke-width="0.35"/>
<rect x="598.73" y="206.15" width="2.20" height="36.35" fill="#e8e400" stroke="#7a7a10" stroke-width="0.35"/>
<rect x="604.47" y="223.99" width="2.20" height="18.51" fill="#e8e400" stroke="#7a7a10" stroke-width="0.35"/>
<rect x="610.21" y="189.62" width="2.20" height="52.88" fill="#e8e400" stroke="#7a7a10" stroke-width="0.35"/>
<rect x="615.95" y="192.93" width="2.20" height="49.57" fill="#e8e400" stroke="#7a7a10" stroke-width="0.35"/>
<rect x="621.69" y="216.06" width="2.20" height="26.44" fill="#e8e400" stroke="#7a7a10" stroke-width="0.35"/>
<line x1="622.79" y1="212.75" x2="622.79" y2="219.37" stroke="#444" stroke-width="0.4"/>
<rect x="627.42" y="225.97" width="2.20" height="16.52" fill="#e8e400" stroke="#7a7a10" stroke-width="0.35"/>
<rect x="633.16" y="225.31" width="2.20" height="17.19" fill="#e8e400" stroke="#7a7a10" stroke-width="0.35"/>
<line x1="634.26" y1="220.69" x2="634.26" y2="229.94" stroke="#444" stroke-width="0.4"/>
<rect x="638.90" y="214.08" width="2.20" height="28.42" fill="#e8e400" stroke="#7a7a10" stroke-width="0.35"/>
<line x1="640.00" y1="210.77" x2="640.00" y2="217.38" stroke="#444" stroke-width="0.4"/>
<rect x="644.64" y="198.21" width="2.20" height="44.29" fill="#e8e400" stroke="#7a7a10" stroke-width="0.35"/>
<line x1="645.74" y1="195.57" x2="645.74" y2="200.86" stroke="#444" stroke-width="0.4"/>
<rect x="650.38" y="229.28" width="2.20" height="13.22" fill="#e8e400" stroke="#7a7a10" stroke-width="0.35"/>
<rect x="656.12" y="213.42" width="2.20" height="29.08" fill="#e8e400" stroke="#7a7a10" stroke-width="0.35"/>
<rect x="661.85" y="202.18" width="2.20" height="40.32" fill="#e8e400" stroke="#7a7a10" stroke-width="0.35"/>
<rect x="667.59" y="198.87" width="2.20" height="43.63" fill="#e8e400" stroke="#7a7a10" stroke-width="0.35"/>
<rect x="673.33" y="214.08" width="2.20" height="28.42" fill="#e8e400" stroke="#7a7a10" stroke-width="0.35"/>
<text x="402.70" y="255.50" font-size="5.2" text-anchor="end" fill="#222">50</text>
<line x1="407.60" y1="265.78" x2="677.30" y2="265.78" stroke="#e6e6e6" stroke-width="0.6"/>
<text x="402.70" y="267.58" font-size="5.2" text-anchor="end" fill="#222">40</text>
<line x1="407.60" y1="277.86" x2="677.30" y2="277.86" stroke="#e6e6e6" stroke-width="0.6"/>
<text x="402.70" y="279.66" font-size="5.2" text-anchor="end" fill="#222">30</text>
<line x1="407.60" y1="289.94" x2="677.30" y2="289.94" stroke="#e6e6e6" stroke-width="0.6"/>
<text x="402.70" y="291.74" font-size="5.2" text-anchor="end" fill="#222">20</text>
<line x1="407.60" y1="302.02" x2="677.30" y2="302.02" stroke="#e6e6e6" stroke-width="0.6"/>
<text x="402.70" y="303.82" font-size="5.2" text-anchor="end" fill="#222">10</text>
<text x="402.70" y="315.90" font-size="5.2" text-anchor="end" fill="#222">0</text>
<line x1="407.60" y1="253.70" x2="677.30" y2="253.70" stroke="#b3b3b3" stroke-width="0.8"/>
<line x1="677.30" y1="253.70" x2="677.30" y2="314.10" stroke="#b3b3b3" stroke-width="0.8"/>
<line x1="407.60" y1="253.70" x2="407.60" y2="314.50" stroke="#5a5a5a" stroke-width="0.9"/>
<line x1="407.60" y1="314.10" x2="677.30" y2="314.10" stroke="#5a5a5a" stroke-width="0.9"/>
<text x="411.30" y="262.10" font-size="7" text-anchor="start" fill="#000">(4)</text>
<text x="494.50" y="261.60" font-size="7" text-anchor="middle" fill="#000">Computing time (hrs)</text>
<rect x="409.17" y="312.65" width="1.90" height="1.45" fill="#f00000" stroke="#7a0000" stroke-width="0.35"/>
<rect x="414.91" y="313.01" width="1.90" height="1.09" fill="#f00000" stroke="#7a0000" stroke-width="0.35"/>
<rect x="420.65" y="312.65" width="1.90" height="1.45" fill="#f00000" stroke="#7a0000" stroke-width="0.35"/>
<rect x="426.38" y="313.01" width="1.90" height="1.09" fill="#f00000" stroke="#7a0000" stroke-width="0.35"/>
<rect x="432.12" y="313.25" width="1.90" height="0.85" fill="#f00000" stroke="#7a0000" stroke-width="0.35"/>
<rect x="437.86" y="310.60" width="1.90" height="3.50" fill="#f00000" stroke="#7a0000" stroke-width="0.35"/>
<rect x="443.60" y="313.86" width="1.90" height="0.24" fill="#f00000" stroke="#7a0000" stroke-width="0.35"/>
<rect x="449.34" y="312.17" width="1.90" height="1.93" fill="#f00000" stroke="#7a0000" stroke-width="0.35"/>
<rect x="455.08" y="313.01" width="1.90" height="1.09" fill="#f00000" stroke="#7a0000" stroke-width="0.35"/>
<rect x="460.81" y="313.01" width="1.90" height="1.09" fill="#f00000" stroke="#7a0000" stroke-width="0.35"/>
<rect x="466.55" y="313.74" width="1.90" height="0.36" fill="#f00000" stroke="#7a0000" stroke-width="0.35"/>
<rect x="472.29" y="312.65" width="1.90" height="1.45" fill="#f00000" stroke="#7a0000" stroke-width="0.35"/>
<rect x="478.03" y="312.05" width="1.90" height="2.05" fill="#f00000" stroke="#7a0000" stroke-width="0.35"/>
<rect x="483.77" y="312.17" width="1.90" height="1.93" fill="#f00000" stroke="#7a0000" stroke-width="0.35"/>
<rect x="489.51" y="311.80" width="1.90" height="2.30" fill="#f00000" stroke="#7a0000" stroke-width="0.35"/>
<rect x="495.24" y="311.20" width="1.90" height="2.90" fill="#f00000" stroke="#7a0000" stroke-width="0.35"/>
<rect x="500.98" y="311.80" width="1.90" height="2.30" fill="#f00000" stroke="#7a0000" stroke-width="0.35"/>
<rect x="506.72" y="311.80" width="1.90" height="2.30" fill="#f00000" stroke="#7a0000" stroke-width="0.35"/>
<rect x="512.46" y="310.11" width="1.90" height="3.99" fill="#f00000" stroke="#7a0000" stroke-width="0.35"/>
<rect x="518.20" y="312.65" width="1.90" height="1.45" fill="#f00000" stroke="#7a0000" stroke-width="0.35"/>
<rect x="523.94" y="313.01" width="1.90" height="1.09" fill="#f00000" stroke="#7a0000" stroke-width="0.35"/>
<rect x="529.67" y="304.68" width="1.90" height="9.42" fill="#f00000" stroke="#7a0000" stroke-width="0.35"/>
<rect x="535.41" y="313.01" width="1.90" height="1.09" fill="#f00000" stroke="#7a0000" stroke-width="0.35"/>
<rect x="541.15" y="312.17" width="1.90" height="1.93" fill="#f00000" stroke="#7a0000" stroke-width="0.35"/>
<rect x="546.89" y="311.44" width="1.90" height="2.66" fill="#f00000" stroke="#7a0000" stroke-width="0.35"/>
<rect x="552.63" y="311.44" width="1.90" height="2.66" fill="#f00000" stroke="#7a0000" stroke-width="0.35"/>
<rect x="558.36" y="304.92" width="1.90" height="9.18" fill="#f00000" stroke="#7a0000" stroke-width="0.35"/>
<rect x="564.10" y="313.74" width="1.90" height="0.36" fill="#f00000" stroke="#7a0000" stroke-width="0.35"/>
<rect x="569.84" y="307.34" width="1.90" height="6.76" fill="#f00000" stroke="#7a0000" stroke-width="0.35"/>
<rect x="575.58" y="302.87" width="1.90" height="11.23" fill="#f00000" stroke="#7a0000" stroke-width="0.35"/>
<rect x="581.32" y="307.70" width="1.90" height="6.40" fill="#f00000" stroke="#7a0000" stroke-width="0.35"/>
<rect x="587.06" y="297.67" width="1.90" height="16.43" fill="#f00000" stroke="#7a0000" stroke-width="0.35"/>
<rect x="592.79" y="311.44" width="1.90" height="2.66" fill="#f00000" stroke="#7a0000" stroke-width="0.35"/>
<rect x="598.53" y="303.83" width="1.90" height="10.27" fill="#f00000" stroke="#7a0000" stroke-width="0.35"/>
<rect x="604.27" y="297.91" width="1.90" height="16.19" fill="#f00000" stroke="#7a0000" stroke-width="0.35"/>
<rect x="610.01" y="306.97" width="1.90" height="7.13" fill="#f00000" stroke="#7a0000" stroke-width="0.35"/>
<rect x="615.75" y="311.08" width="1.90" height="3.02" fill="#f00000" stroke="#7a0000" stroke-width="0.35"/>
<rect x="621.49" y="307.70" width="1.90" height="6.40" fill="#f00000" stroke="#7a0000" stroke-width="0.35"/>
<rect x="627.22" y="308.54" width="1.90" height="5.56" fill="#f00000" stroke="#7a0000" stroke-width="0.35"/>
<rect x="632.96" y="303.23" width="1.90" height="10.87" fill="#f00000" stroke="#7a0000" stroke-width="0.35"/>
<rect x="638.70" y="303.83" width="1.90" height="10.27" fill="#f00000" stroke="#7a0000" stroke-width="0.35"/>
<rect x="644.44" y="305.28" width="1.90" height="8.82" fill="#f00000" stroke="#7a0000" stroke-width="0.35"/>
<rect x="650.18" y="304.32" width="1.90" height="9.78" fill="#f00000" stroke="#7a0000" stroke-width="0.35"/>
<rect x="655.92" y="310.60" width="1.90" height="3.50" fill="#f00000" stroke="#7a0000" stroke-width="0.35"/>
<rect x="661.65" y="285.23" width="1.90" height="28.87" fill="#f00000" stroke="#7a0000" stroke-width="0.35"/>
<rect x="667.39" y="262.88" width="1.90" height="51.22" fill="#f00000" stroke="#7a0000" stroke-width="0.35"/>
<rect x="673.13" y="254.06" width="1.90" height="60.04" fill="#f00000" stroke="#7a0000" stroke-width="0.35"/>
<text x="412.07" y="316.70" font-size="4.6" text-anchor="end" fill="#222" transform="rotate(-90 412.07 316.70)">SARS_Spike</text>
<text x="417.81" y="316.70" font-size="4.6" text-anchor="end" fill="#222" transform="rotate(-90 417.81 316.70)">CDC48</text>
<text x="423.55" y="316.70" font-size="4.6" text-anchor="end" fill="#222" transform="rotate(-90 423.55 316.70)">SARS2_Spike</text>
<text x="429.28" y="316.70" font-size="4.6" text-anchor="end" fill="#222" transform="rotate(-90 429.28 316.70)">DNAPKcs</text>
<text x="435.02" y="316.70" font-size="4.6" text-anchor="end" fill="#222" transform="rotate(-90 435.02 316.70)">MCM 6mer</text>
<text x="440.76" y="316.70" font-size="4.6" text-anchor="end" fill="#222" transform="rotate(-90 440.76 316.70)">MERS_Spike</text>
<text x="446.50" y="316.70" font-size="4.6" text-anchor="end" fill="#222" transform="rotate(-90 446.50 316.70)">KCNMA</text>
<text x="452.24" y="316.70" font-size="4.6" text-anchor="end" fill="#222" transform="rotate(-90 452.24 316.70)">Abo1</text>
<text x="457.98" y="316.70" font-size="4.6" text-anchor="end" fill="#222" transform="rotate(-90 457.98 316.70)">ClpB</text>
<text x="463.71" y="316.70" font-size="4.6" text-anchor="end" fill="#222" transform="rotate(-90 463.71 316.70)">ClpA</text>
<text x="469.45" y="316.70" font-size="4.6" text-anchor="end" fill="#222" transform="rotate(-90 469.45 316.70)">SLO</text>
<text x="475.19" y="316.70" font-size="4.6" text-anchor="end" fill="#222" transform="rotate(-90 475.19 316.70)">GroEL 7mer</text>
<text x="480.93" y="316.70" font-size="4.6" text-anchor="end" fill="#222" transform="rotate(-90 480.93 316.70)">sc_TRiC 8mer</text>
<text x="486.67" y="316.70" font-size="4.6" text-anchor="end" fill="#222" transform="rotate(-90 486.67 316.70)">HSP60 7mer</text>
<text x="492.41" y="316.70" font-size="4.6" text-anchor="end" fill="#222" transform="rotate(-90 492.41 316.70)">hs_TRiC 8mer</text>
<text x="498.14" y="316.70" font-size="4.6" text-anchor="end" fill="#222" transform="rotate(-90 498.14 316.70)">ACLY</text>
<text x="503.88" y="316.70" font-size="4.6" text-anchor="end" fill="#222" transform="rotate(-90 503.88 316.70)">VCP 6mer</text>
<text x="509.62" y="316.70" font-size="4.6" text-anchor="end" fill="#222" transform="rotate(-90 509.62 316.70)">Portal</text>
<text x="515.36" y="316.70" font-size="4.6" text-anchor="end" fill="#222" transform="rotate(-90 515.36 316.70)">AFG2</text>
<text x="521.10" y="316.70" font-size="4.6" text-anchor="end" fill="#222" transform="rotate(-90 521.10 316.70)">mTOR</text>
<text x="526.84" y="316.70" font-size="4.6" text-anchor="end" fill="#222" transform="rotate(-90 526.84 316.70)">LRRC8A</text>
<text x="532.57" y="316.70" font-size="4.6" text-anchor="end" fill="#222" transform="rotate(-90 532.57 316.70)">Nf1 (isoform 1)</text>
<text x="538.31" y="316.70" font-size="4.6" text-anchor="end" fill="#222" transform="rotate(-90 538.31 316.70)">TRPM7</text>
<text x="544.05" y="316.70" font-size="4.6" text-anchor="end" fill="#222" transform="rotate(-90 544.05 316.70)">ClpA/P 13mer</text>
<text x="549.79" y="316.70" font-size="4.6" text-anchor="end" fill="#222" transform="rotate(-90 549.79 316.70)">LONP1</text>
<text x="555.53" y="316.70" font-size="4.6" text-anchor="end" fill="#222" transform="rotate(-90 555.53 316.70)">gp12</text>
<text x="561.26" y="316.70" font-size="4.6" text-anchor="end" fill="#222" transform="rotate(-90 561.26 316.70)">ms_ATPs</text>
<text x="567.00" y="316.70" font-size="4.6" text-anchor="end" fill="#222" transform="rotate(-90 567.00 316.70)">P1234</text>
<text x="572.74" y="316.70" font-size="4.6" text-anchor="end" fill="#222" transform="rotate(-90 572.74 316.70)">Nf1 (isoform 2)</text>
<text x="578.48" y="316.70" font-size="4.6" text-anchor="end" fill="#222" transform="rotate(-90 578.48 316.70)">ab_ATPs</text>
<text x="584.22" y="316.70" font-size="4.6" text-anchor="end" fill="#222" transform="rotate(-90 584.22 316.70)">A2M</text>
<text x="589.96" y="316.70" font-size="4.6" text-anchor="end" fill="#222" transform="rotate(-90 589.96 316.70)">sc_ATPs</text>
<text x="595.69" y="316.70" font-size="4.6" text-anchor="end" fill="#222" transform="rotate(-90 595.69 316.70)">TRPM2</text>
<text x="601.43" y="316.70" font-size="4.6" text-anchor="end" fill="#222" transform="rotate(-90 601.43 316.70)">MEC1</text>
<text x="607.17" y="316.70" font-size="4.6" text-anchor="end" fill="#222" transform="rotate(-90 607.17 316.70)">V-ATPs</text>
<text x="612.91" y="316.70" font-size="4.6" text-anchor="end" fill="#222" transform="rotate(-90 612.91 316.70)">MCM 12mer</text>
<text x="618.65" y="316.70" font-size="4.6" text-anchor="end" fill="#222" transform="rotate(-90 618.65 316.70)">ClpA/P 20mer</text>
<text x="624.39" y="316.70" font-size="4.6" text-anchor="end" fill="#222" transform="rotate(-90 624.39 316.70)">GroEL 14mer</text>
<text x="630.12" y="316.70" font-size="4.6" text-anchor="end" fill="#222" transform="rotate(-90 630.12 316.70)">HSP60 14mer</text>
<text x="635.86" y="316.70" font-size="4.6" text-anchor="end" fill="#222" transform="rotate(-90 635.86 316.70)">sc_TRiC 16mer</text>
<text x="641.60" y="316.70" font-size="4.6" text-anchor="end" fill="#222" transform="rotate(-90 641.60 316.70)">hs_TRiC 16mer</text>
<text x="647.34" y="316.70" font-size="4.6" text-anchor="end" fill="#222" transform="rotate(-90 647.34 316.70)">ITPR3</text>
<text x="653.08" y="316.70" font-size="4.6" text-anchor="end" fill="#222" transform="rotate(-90 653.08 316.70)">VCP 12mer</text>
<text x="658.82" y="316.70" font-size="4.6" text-anchor="end" fill="#222" transform="rotate(-90 658.82 316.70)">FAS 6mer</text>
<text x="664.55" y="316.70" font-size="4.6" text-anchor="end" fill="#222" transform="rotate(-90 664.55 316.70)">RyR2</text>
<text x="670.29" y="316.70" font-size="4.6" text-anchor="end" fill="#222" transform="rotate(-90 670.29 316.70)">RyR1</text>
<text x="676.03" y="316.70" font-size="4.6" text-anchor="end" fill="#222" transform="rotate(-90 676.03 316.70)">FAS 12mer</text>
<text x="192.70" y="368.20" font-size="10.2" text-anchor="middle" fill="#111">All protein systems</text>
<line x1="47.70" y1="483.20" x2="47.70" y2="480.60" stroke="#262626" stroke-width="0.6"/>
<line x1="47.70" y1="374.60" x2="47.70" y2="377.20" stroke="#262626" stroke-width="0.6"/>
<text x="47.70" y="492.80" font-size="7.2" text-anchor="middle" fill="#262626">0.2</text>
<line x1="76.64" y1="483.20" x2="76.64" y2="480.60" stroke="#262626" stroke-width="0.6"/>
<line x1="76.64" y1="374.60" x2="76.64" y2="377.20" stroke="#262626" stroke-width="0.6"/>
<text x="76.64" y="492.80" font-size="7.2" text-anchor="middle" fill="#262626">0.4</text>
<line x1="105.58" y1="483.20" x2="105.58" y2="480.60" stroke="#262626" stroke-width="0.6"/>
<line x1="105.58" y1="374.60" x2="105.58" y2="377.20" stroke="#262626" stroke-width="0.6"/>
<text x="105.58" y="492.80" font-size="7.2" text-anchor="middle" fill="#262626">0.6</text>
<line x1="134.52" y1="483.20" x2="134.52" y2="480.60" stroke="#262626" stroke-width="0.6"/>
<line x1="134.52" y1="374.60" x2="134.52" y2="377.20" stroke="#262626" stroke-width="0.6"/>
<text x="134.52" y="492.80" font-size="7.2" text-anchor="middle" fill="#262626">0.8</text>
<line x1="163.46" y1="483.20" x2="163.46" y2="480.60" stroke="#262626" stroke-width="0.6"/>
<line x1="163.46" y1="374.60" x2="163.46" y2="377.20" stroke="#262626" stroke-width="0.6"/>
<text x="163.46" y="492.80" font-size="7.2" text-anchor="middle" fill="#262626">1</text>
<line x1="192.40" y1="483.20" x2="192.40" y2="480.60" stroke="#262626" stroke-width="0.6"/>
<line x1="192.40" y1="374.60" x2="192.40" y2="377.20" stroke="#262626" stroke-width="0.6"/>
<text x="192.40" y="492.80" font-size="7.2" text-anchor="middle" fill="#262626">1.2</text>
<line x1="221.34" y1="483.20" x2="221.34" y2="480.60" stroke="#262626" stroke-width="0.6"/>
<line x1="221.34" y1="374.60" x2="221.34" y2="377.20" stroke="#262626" stroke-width="0.6"/>
<text x="221.34" y="492.80" font-size="7.2" text-anchor="middle" fill="#262626">1.4</text>
<line x1="250.28" y1="483.20" x2="250.28" y2="480.60" stroke="#262626" stroke-width="0.6"/>
<line x1="250.28" y1="374.60" x2="250.28" y2="377.20" stroke="#262626" stroke-width="0.6"/>
<text x="250.28" y="492.80" font-size="7.2" text-anchor="middle" fill="#262626">1.6</text>
<line x1="279.22" y1="483.20" x2="279.22" y2="480.60" stroke="#262626" stroke-width="0.6"/>
<line x1="279.22" y1="374.60" x2="279.22" y2="377.20" stroke="#262626" stroke-width="0.6"/>
<text x="279.22" y="492.80" font-size="7.2" text-anchor="middle" fill="#262626">1.8</text>
<line x1="308.16" y1="483.20" x2="308.16" y2="480.60" stroke="#262626" stroke-width="0.6"/>
<line x1="308.16" y1="374.60" x2="308.16" y2="377.20" stroke="#262626" stroke-width="0.6"/>
<text x="308.16" y="492.80" font-size="7.2" text-anchor="middle" fill="#262626">2</text>
<line x1="337.10" y1="483.20" x2="337.10" y2="480.60" stroke="#262626" stroke-width="0.6"/>
<line x1="337.10" y1="374.60" x2="337.10" y2="377.20" stroke="#262626" stroke-width="0.6"/>
<text x="337.10" y="492.80" font-size="7.2" text-anchor="middle" fill="#262626">2.2</text>
<line x1="47.70" y1="481.00" x2="50.30" y2="481.00" stroke="#262626" stroke-width="0.6"/>
<line x1="337.10" y1="481.00" x2="334.50" y2="481.00" stroke="#262626" stroke-width="0.6"/>
<text x="45.30" y="483.60" font-size="7.2" text-anchor="end" fill="#262626">0</text>
<line x1="47.70" y1="461.70" x2="50.30" y2="461.70" stroke="#262626" stroke-width="0.6"/>
<line x1="337.10" y1="461.70" x2="334.50" y2="461.70" stroke="#262626" stroke-width="0.6"/>
<text x="45.30" y="464.30" font-size="7.2" text-anchor="end" fill="#262626">10</text>
<line x1="47.70" y1="442.40" x2="50.30" y2="442.40" stroke="#262626" stroke-width="0.6"/>
<line x1="337.10" y1="442.40" x2="334.50" y2="442.40" stroke="#262626" stroke-width="0.6"/>
<text x="45.30" y="445.00" font-size="7.2" text-anchor="end" fill="#262626">20</text>
<line x1="47.70" y1="423.10" x2="50.30" y2="423.10" stroke="#262626" stroke-width="0.6"/>
<line x1="337.10" y1="423.10" x2="334.50" y2="423.10" stroke="#262626" stroke-width="0.6"/>
<text x="45.30" y="425.70" font-size="7.2" text-anchor="end" fill="#262626">30</text>
<line x1="47.70" y1="403.80" x2="50.30" y2="403.80" stroke="#262626" stroke-width="0.6"/>
<line x1="337.10" y1="403.80" x2="334.50" y2="403.80" stroke="#262626" stroke-width="0.6"/>
<text x="45.30" y="406.40" font-size="7.2" text-anchor="end" fill="#262626">40</text>
<line x1="47.70" y1="384.50" x2="50.30" y2="384.50" stroke="#262626" stroke-width="0.6"/>
<line x1="337.10" y1="384.50" x2="334.50" y2="384.50" stroke="#262626" stroke-width="0.6"/>
<text x="45.30" y="387.10" font-size="7.2" text-anchor="end" fill="#262626">50</text>
<rect x="47.70" y="374.60" width="289.40" height="108.60" fill="none" stroke="#262626" stroke-width="0.7"/>
<text x="34.20" y="427.20" font-size="7.5" text-anchor="middle" fill="#262626" transform="rotate(-90 34.20 427.20)">eBDIMS2 computing time (hrs)</text>
<text x="192.30" y="502.30" font-size="7.75" text-anchor="middle" fill="#262626">Number of residues (-)</text>
<text x="320.60" y="502.40" font-size="6.6" text-anchor="start" fill="#262626">×10</text>
<text x="333.30" y="498.60" font-size="5.0" text-anchor="start" fill="#262626">4</text>
<text x="55.70" y="387.90" font-size="7.75" text-anchor="start" fill="#111">PCC = 0.89</text>
<clipPath id="cL"><rect x="47.70" y="374.60" width="289.40" height="108.60"/></clipPath>
<g clip-path="url(#cL)">
<line x1="47.70" y1="484.60" x2="337.10" y2="395.60" stroke="#000" stroke-width="1.1"/>
<line x1="47.70" y1="482.20" x2="337.10" y2="388.90" stroke="#000" stroke-width="0.9" stroke-dasharray="4.2,2.6"/>
<line x1="47.70" y1="487.70" x2="337.10" y2="405.90" stroke="#000" stroke-width="0.9" stroke-dasharray="4.2,2.6"/>
</g>
<text x="245.60" y="390.60" font-size="7.5" text-anchor="start" fill="#111">RyR1</text>
<text x="297.60" y="384.90" font-size="7.5" text-anchor="start" fill="#111">FAS</text>
<text x="294.60" y="394.60" font-size="7.5" text-anchor="start" fill="#111">12mer</text>
<text x="246.80" y="443.80" font-size="7.5" text-anchor="start" fill="#111">RyR2</text>
<circle cx="93.20" cy="452.60" r="2.0" fill="#0f6fbf" stroke="#17355c" stroke-width="0.5"/>
<circle cx="93.20" cy="454.80" r="2.0" fill="#0f6fbf" stroke="#17355c" stroke-width="0.5"/>
<circle cx="103.10" cy="452.60" r="2.0" fill="#0f6fbf" stroke="#17355c" stroke-width="0.5"/>
<circle cx="103.10" cy="454.80" r="2.0" fill="#0f6fbf" stroke="#17355c" stroke-width="0.5"/>
<circle cx="103.10" cy="457.70" r="2.0" fill="#0f6fbf" stroke="#17355c" stroke-width="0.5"/>
<circle cx="88.80" cy="461.40" r="2.0" fill="#0f6fbf" stroke="#17355c" stroke-width="0.5"/>
<circle cx="87.30" cy="463.60" r="2.0" fill="#0f6fbf" stroke="#17355c" stroke-width="0.5"/>
<circle cx="86.60" cy="465.80" r="2.0" fill="#0f6fbf" stroke="#17355c" stroke-width="0.5"/>
<circle cx="88.10" cy="468.70" r="2.0" fill="#0f6fbf" stroke="#17355c" stroke-width="0.5"/>
<circle cx="88.80" cy="470.90" r="2.0" fill="#0f6fbf" stroke="#17355c" stroke-width="0.5"/>
<circle cx="94.60" cy="461.40" r="2.0" fill="#0f6fbf" stroke="#17355c" stroke-width="0.5"/>
<circle cx="94.60" cy="464.30" r="2.0" fill="#0f6fbf" stroke="#17355c" stroke-width="0.5"/>
<circle cx="93.20" cy="468.00" r="2.0" fill="#0f6fbf" stroke="#17355c" stroke-width="0.5"/>
<circle cx="91.70" cy="472.30" r="2.0" fill="#0f6fbf" stroke="#17355c" stroke-width="0.5"/>
<circle cx="93.20" cy="476.70" r="2.0" fill="#0f6fbf" stroke="#17355c" stroke-width="0.5"/>
<circle cx="80.80" cy="466.50" r="2.0" fill="#0f6fbf" stroke="#17355c" stroke-width="0.5"/>
<circle cx="107.00" cy="468.70" r="2.0" fill="#0f6fbf" stroke="#17355c" stroke-width="0.5"/>
<circle cx="107.00" cy="476.00" r="2.0" fill="#0f6fbf" stroke="#17355c" stroke-width="0.5"/>
<circle cx="126.80" cy="456.30" r="2.0" fill="#0f6fbf" stroke="#17355c" stroke-width="0.5"/>
<circle cx="126.80" cy="458.50" r="2.0" fill="#0f6fbf" stroke="#17355c" stroke-width="0.5"/>
<circle cx="130.40" cy="459.90" r="2.0" fill="#0f6fbf" stroke="#17355c" stroke-width="0.5"/>
<circle cx="123.80" cy="465.00" r="2.0" fill="#0f6fbf" stroke="#17355c" stroke-width="0.5"/>
<circle cx="123.80" cy="468.70" r="2.0" fill="#0f6fbf" stroke="#17355c" stroke-width="0.5"/>
<circle cx="124.60" cy="471.60" r="2.0" fill="#0f6fbf" stroke="#17355c" stroke-width="0.5"/>
<circle cx="123.80" cy="473.00" r="2.0" fill="#0f6fbf" stroke="#17355c" stroke-width="0.5"/>
<circle cx="130.40" cy="465.80" r="2.0" fill="#0f6fbf" stroke="#17355c" stroke-width="0.5"/>
<circle cx="130.40" cy="468.70" r="2.0" fill="#0f6fbf" stroke="#17355c" stroke-width="0.5"/>
<circle cx="134.80" cy="464.30" r="2.0" fill="#0f6fbf" stroke="#17355c" stroke-width="0.5"/>
<circle cx="135.50" cy="466.50" r="2.0" fill="#0f6fbf" stroke="#17355c" stroke-width="0.5"/>
<circle cx="134.80" cy="470.10" r="2.0" fill="#0f6fbf" stroke="#17355c" stroke-width="0.5"/>
<circle cx="139.20" cy="464.30" r="2.0" fill="#0f6fbf" stroke="#17355c" stroke-width="0.5"/>
<circle cx="141.00" cy="475.30" r="2.0" fill="#0f6fbf" stroke="#17355c" stroke-width="0.5"/>
<circle cx="65.40" cy="473.00" r="2.0" fill="#0f6fbf" stroke="#17355c" stroke-width="0.5"/>
<circle cx="65.40" cy="474.50" r="2.0" fill="#0f6fbf" stroke="#17355c" stroke-width="0.5"/>
<circle cx="86.50" cy="467.80" r="2.0" fill="#0f6fbf" stroke="#17355c" stroke-width="0.5"/>
<circle cx="89.40" cy="470.30" r="2.0" fill="#0f6fbf" stroke="#17355c" stroke-width="0.5"/>
<circle cx="91.20" cy="468.90" r="2.0" fill="#0f6fbf" stroke="#17355c" stroke-width="0.5"/>
<circle cx="95.60" cy="468.10" r="2.0" fill="#0f6fbf" stroke="#17355c" stroke-width="0.5"/>
<circle cx="87.60" cy="480.20" r="2.0" fill="#0f6fbf" stroke="#17355c" stroke-width="0.5"/>
<circle cx="85.80" cy="476.90" r="2.0" fill="#0f6fbf" stroke="#17355c" stroke-width="0.5"/>
<circle cx="83.90" cy="478.40" r="2.0" fill="#0f6fbf" stroke="#17355c" stroke-width="0.5"/>
<circle cx="81.00" cy="479.80" r="2.0" fill="#0f6fbf" stroke="#17355c" stroke-width="0.5"/>
<circle cx="79.20" cy="479.10" r="2.0" fill="#0f6fbf" stroke="#17355c" stroke-width="0.5"/>
<circle cx="75.50" cy="475.10" r="2.0" fill="#0f6fbf" stroke="#17355c" stroke-width="0.5"/>
<circle cx="77.70" cy="476.20" r="2.0" fill="#0f6fbf" stroke="#17355c" stroke-width="0.5"/>
<circle cx="74.10" cy="478.40" r="2.0" fill="#0f6fbf" stroke="#17355c" stroke-width="0.5"/>
<circle cx="71.90" cy="479.10" r="2.0" fill="#0f6fbf" stroke="#17355c" stroke-width="0.5"/>
<circle cx="70.10" cy="480.50" r="2.0" fill="#0f6fbf" stroke="#17355c" stroke-width="0.5"/>
<circle cx="67.50" cy="480.20" r="2.0" fill="#0f6fbf" stroke="#17355c" stroke-width="0.5"/>
<circle cx="65.30" cy="478.40" r="2.0" fill="#0f6fbf" stroke="#17355c" stroke-width="0.5"/>
<circle cx="65.30" cy="476.70" r="2.0" fill="#0f6fbf" stroke="#17355c" stroke-width="0.5"/>
<circle cx="62.40" cy="479.10" r="2.0" fill="#0f6fbf" stroke="#17355c" stroke-width="0.5"/>
<circle cx="60.20" cy="478.70" r="2.0" fill="#0f6fbf" stroke="#17355c" stroke-width="0.5"/>
<circle cx="58.80" cy="478.40" r="2.0" fill="#0f6fbf" stroke="#17355c" stroke-width="0.5"/>
<circle cx="61.70" cy="480.90" r="2.0" fill="#0f6fbf" stroke="#17355c" stroke-width="0.5"/>
<circle cx="63.10" cy="481.60" r="2.0" fill="#0f6fbf" stroke="#17355c" stroke-width="0.5"/>
<circle cx="58.00" cy="480.20" r="2.0" fill="#0f6fbf" stroke="#17355c" stroke-width="0.5"/>
<circle cx="60.00" cy="481.50" r="2.0" fill="#0f6fbf" stroke="#17355c" stroke-width="0.5"/>
<circle cx="66.00" cy="481.00" r="2.0" fill="#0f6fbf" stroke="#17355c" stroke-width="0.5"/>
<circle cx="69.00" cy="478.00" r="2.0" fill="#0f6fbf" stroke="#17355c" stroke-width="0.5"/>
<circle cx="72.50" cy="477.00" r="2.0" fill="#0f6fbf" stroke="#17355c" stroke-width="0.5"/>
<circle cx="260.00" cy="396.40" r="2.0" fill="#0f6fbf" stroke="#17355c" stroke-width="0.5"/>
<circle cx="260.00" cy="401.70" r="2.0" fill="#0f6fbf" stroke="#17355c" stroke-width="0.5"/>
<circle cx="246.00" cy="434.10" r="2.0" fill="#0f6fbf" stroke="#17355c" stroke-width="0.5"/>
<circle cx="320.10" cy="385.10" r="2.0" fill="#0f6fbf" stroke="#17355c" stroke-width="0.5"/>
<text x="528.60" y="367.60" font-size="10.2" text-anchor="middle" fill="#111">Proteins smaller than 10,000 residues</text>
<line x1="381.30" y1="483.50" x2="381.30" y2="480.90" stroke="#262626" stroke-width="0.6"/>
<line x1="381.30" y1="373.20" x2="381.30" y2="375.80" stroke="#262626" stroke-width="0.6"/>
<text x="381.30" y="493.00" font-size="7.2" text-anchor="middle" fill="#262626">2000</text>
<line x1="418.06" y1="483.50" x2="418.06" y2="480.90" stroke="#262626" stroke-width="0.6"/>
<line x1="418.06" y1="373.20" x2="418.06" y2="375.80" stroke="#262626" stroke-width="0.6"/>
<text x="418.06" y="493.00" font-size="7.2" text-anchor="middle" fill="#262626">3000</text>
<line x1="454.82" y1="483.50" x2="454.82" y2="480.90" stroke="#262626" stroke-width="0.6"/>
<line x1="454.82" y1="373.20" x2="454.82" y2="375.80" stroke="#262626" stroke-width="0.6"/>
<text x="454.82" y="493.00" font-size="7.2" text-anchor="middle" fill="#262626">4000</text>
<line x1="491.59" y1="483.50" x2="491.59" y2="480.90" stroke="#262626" stroke-width="0.6"/>
<line x1="491.59" y1="373.20" x2="491.59" y2="375.80" stroke="#262626" stroke-width="0.6"/>
<text x="491.59" y="493.00" font-size="7.2" text-anchor="middle" fill="#262626">5000</text>
<line x1="528.35" y1="483.50" x2="528.35" y2="480.90" stroke="#262626" stroke-width="0.6"/>
<line x1="528.35" y1="373.20" x2="528.35" y2="375.80" stroke="#262626" stroke-width="0.6"/>
<text x="528.35" y="493.00" font-size="7.2" text-anchor="middle" fill="#262626">6000</text>
<line x1="565.11" y1="483.50" x2="565.11" y2="480.90" stroke="#262626" stroke-width="0.6"/>
<line x1="565.11" y1="373.20" x2="565.11" y2="375.80" stroke="#262626" stroke-width="0.6"/>
<text x="565.11" y="493.00" font-size="7.2" text-anchor="middle" fill="#262626">7000</text>
<line x1="601.88" y1="483.50" x2="601.88" y2="480.90" stroke="#262626" stroke-width="0.6"/>
<line x1="601.88" y1="373.20" x2="601.88" y2="375.80" stroke="#262626" stroke-width="0.6"/>
<text x="601.88" y="493.00" font-size="7.2" text-anchor="middle" fill="#262626">8000</text>
<line x1="638.64" y1="483.50" x2="638.64" y2="480.90" stroke="#262626" stroke-width="0.6"/>
<line x1="638.64" y1="373.20" x2="638.64" y2="375.80" stroke="#262626" stroke-width="0.6"/>
<text x="638.64" y="493.00" font-size="7.2" text-anchor="middle" fill="#262626">9000</text>
<line x1="675.40" y1="483.50" x2="675.40" y2="480.90" stroke="#262626" stroke-width="0.6"/>
<line x1="675.40" y1="373.20" x2="675.40" y2="375.80" stroke="#262626" stroke-width="0.6"/>
<text x="675.40" y="493.00" font-size="7.2" text-anchor="middle" fill="#262626">10000</text>
<line x1="381.30" y1="473.50" x2="383.90" y2="473.50" stroke="#262626" stroke-width="0.6"/>
<line x1="675.40" y1="473.50" x2="672.80" y2="473.50" stroke="#262626" stroke-width="0.6"/>
<text x="378.90" y="476.10" font-size="7.2" text-anchor="end" fill="#262626">0</text>
<line x1="381.30" y1="448.40" x2="383.90" y2="448.40" stroke="#262626" stroke-width="0.6"/>
<line x1="675.40" y1="448.40" x2="672.80" y2="448.40" stroke="#262626" stroke-width="0.6"/>
<text x="378.90" y="451.00" font-size="7.2" text-anchor="end" fill="#262626">5</text>
<line x1="381.30" y1="423.30" x2="383.90" y2="423.30" stroke="#262626" stroke-width="0.6"/>
<line x1="675.40" y1="423.30" x2="672.80" y2="423.30" stroke="#262626" stroke-width="0.6"/>
<text x="378.90" y="425.90" font-size="7.2" text-anchor="end" fill="#262626">10</text>
<line x1="381.30" y1="398.20" x2="383.90" y2="398.20" stroke="#262626" stroke-width="0.6"/>
<line x1="675.40" y1="398.20" x2="672.80" y2="398.20" stroke="#262626" stroke-width="0.6"/>
<text x="378.90" y="400.80" font-size="7.2" text-anchor="end" fill="#262626">15</text>
<line x1="381.30" y1="373.10" x2="383.90" y2="373.10" stroke="#262626" stroke-width="0.6"/>
<line x1="675.40" y1="373.10" x2="672.80" y2="373.10" stroke="#262626" stroke-width="0.6"/>
<text x="378.90" y="375.70" font-size="7.2" text-anchor="end" fill="#262626">20</text>
<rect x="381.30" y="373.20" width="294.10" height="110.30" fill="none" stroke="#262626" stroke-width="0.7"/>
<text x="366.20" y="428.80" font-size="7.5" text-anchor="middle" fill="#262626" transform="rotate(-90 366.20 428.80)">eBDIMS2 computing time (hrs)</text>
<text x="528.60" y="502.10" font-size="7.75" text-anchor="middle" fill="#262626">Number of residues (-)</text>
<text x="383.80" y="388.90" font-size="7.75" text-anchor="start" fill="#111">PCC = 0.67</text>
<clipPath id="cR"><rect x="381.30" y="373.20" width="294.10" height="110.30"/></clipPath>
<g clip-path="url(#cR)">
<line x1="381.30" y1="473.50" x2="675.40" y2="416.90" stroke="#000" stroke-width="1.1"/>
<line x1="381.30" y1="464.60" x2="675.40" y2="396.80" stroke="#000" stroke-width="0.9" stroke-dasharray="4.2,2.6"/>
<line x1="381.30" y1="480.90" x2="675.40" y2="433.20" stroke="#000" stroke-width="0.9" stroke-dasharray="4.2,2.6"/>
</g>
<text x="490.90" y="392.80" font-size="7.5" text-anchor="start" fill="#111">ATP synthases</text>
<text x="457.10" y="428.70" font-size="7.5" text-anchor="start" fill="#111">Nf1</text>
<text x="486.20" y="479.90" font-size="7.5" text-anchor="start" fill="#111">P1234</text>
<text x="608.80" y="469.60" font-size="7.5" text-anchor="start" fill="#111">FAS 6mer</text>
<circle cx="497.00" cy="401.20" r="2.0" fill="#0f6fbf" stroke="#17355c" stroke-width="0.5"/>
<circle cx="497.00" cy="406.40" r="2.0" fill="#0f6fbf" stroke="#17355c" stroke-width="0.5"/>
<circle cx="522.40" cy="400.30" r="2.0" fill="#0f6fbf" stroke="#17355c" stroke-width="0.5"/>
<circle cx="522.40" cy="402.90" r="2.0" fill="#0f6fbf" stroke="#17355c" stroke-width="0.5"/>
<circle cx="522.40" cy="405.90" r="2.0" fill="#0f6fbf" stroke="#17355c" stroke-width="0.5"/>
<circle cx="522.40" cy="413.80" r="2.0" fill="#0f6fbf" stroke="#17355c" stroke-width="0.5"/>
<circle cx="501.40" cy="422.60" r="2.0" fill="#0f6fbf" stroke="#17355c" stroke-width="0.5"/>
<circle cx="501.40" cy="429.00" r="2.0" fill="#0f6fbf" stroke="#17355c" stroke-width="0.5"/>
<circle cx="501.40" cy="430.40" r="2.0" fill="#0f6fbf" stroke="#17355c" stroke-width="0.5"/>
<circle cx="501.40" cy="441.00" r="2.0" fill="#0f6fbf" stroke="#17355c" stroke-width="0.5"/>
<circle cx="487.10" cy="422.90" r="2.0" fill="#0f6fbf" stroke="#17355c" stroke-width="0.5"/>
<circle cx="487.10" cy="425.70" r="2.0" fill="#0f6fbf" stroke="#17355c" stroke-width="0.5"/>
<circle cx="487.10" cy="427.80" r="2.0" fill="#0f6fbf" stroke="#17355c" stroke-width="0.5"/>
<circle cx="481.30" cy="427.80" r="2.0" fill="#0f6fbf" stroke="#17355c" stroke-width="0.5"/>
<circle cx="481.30" cy="435.70" r="2.0" fill="#0f6fbf" stroke="#17355c" stroke-width="0.5"/>
<circle cx="481.30" cy="440.60" r="2.0" fill="#0f6fbf" stroke="#17355c" stroke-width="0.5"/>
<circle cx="466.90" cy="434.00" r="2.0" fill="#0f6fbf" stroke="#17355c" stroke-width="0.5"/>
<circle cx="466.90" cy="436.90" r="2.0" fill="#0f6fbf" stroke="#17355c" stroke-width="0.5"/>
<circle cx="486.20" cy="441.80" r="2.0" fill="#0f6fbf" stroke="#17355c" stroke-width="0.5"/>
<circle cx="486.20" cy="448.50" r="2.0" fill="#0f6fbf" stroke="#17355c" stroke-width="0.5"/>
<circle cx="495.00" cy="441.80" r="2.0" fill="#0f6fbf" stroke="#17355c" stroke-width="0.5"/>
<circle cx="495.00" cy="444.40" r="2.0" fill="#0f6fbf" stroke="#17355c" stroke-width="0.5"/>
<circle cx="495.00" cy="447.00" r="2.0" fill="#0f6fbf" stroke="#17355c" stroke-width="0.5"/>
<circle cx="495.00" cy="449.60" r="2.0" fill="#0f6fbf" stroke="#17355c" stroke-width="0.5"/>
<circle cx="495.00" cy="452.30" r="2.0" fill="#0f6fbf" stroke="#17355c" stroke-width="0.5"/>
<circle cx="497.90" cy="461.10" r="2.0" fill="#0f6fbf" stroke="#17355c" stroke-width="0.5"/>
<circle cx="483.40" cy="470.40" r="2.0" fill="#0f6fbf" stroke="#17355c" stroke-width="0.5"/>
<circle cx="532.10" cy="440.60" r="2.0" fill="#0f6fbf" stroke="#17355c" stroke-width="0.5"/>
<circle cx="532.10" cy="445.70" r="2.0" fill="#0f6fbf" stroke="#17355c" stroke-width="0.5"/>
<circle cx="532.10" cy="457.60" r="2.0" fill="#0f6fbf" stroke="#17355c" stroke-width="0.5"/>
<circle cx="532.10" cy="460.60" r="2.0" fill="#0f6fbf" stroke="#17355c" stroke-width="0.5"/>
<circle cx="463.40" cy="455.80" r="2.0" fill="#0f6fbf" stroke="#17355c" stroke-width="0.5"/>
<circle cx="463.40" cy="457.60" r="2.0" fill="#0f6fbf" stroke="#17355c" stroke-width="0.5"/>
<circle cx="479.20" cy="460.20" r="2.0" fill="#0f6fbf" stroke="#17355c" stroke-width="0.5"/>
<circle cx="479.20" cy="462.00" r="2.0" fill="#0f6fbf" stroke="#17355c" stroke-width="0.5"/>
<circle cx="472.50" cy="464.60" r="2.0" fill="#0f6fbf" stroke="#17355c" stroke-width="0.5"/>
<circle cx="462.00" cy="464.60" r="2.0" fill="#0f6fbf" stroke="#17355c" stroke-width="0.5"/>
<circle cx="465.50" cy="468.10" r="2.0" fill="#0f6fbf" stroke="#17355c" stroke-width="0.5"/>
<circle cx="469.00" cy="469.50" r="2.0" fill="#0f6fbf" stroke="#17355c" stroke-width="0.5"/>
<circle cx="410.60" cy="465.50" r="2.0" fill="#0f6fbf" stroke="#17355c" stroke-width="0.5"/>
<circle cx="410.60" cy="468.10" r="2.0" fill="#0f6fbf" stroke="#17355c" stroke-width="0.5"/>
<circle cx="410.60" cy="470.70" r="2.0" fill="#0f6fbf" stroke="#17355c" stroke-width="0.5"/>
<circle cx="414.20" cy="466.00" r="2.0" fill="#0f6fbf" stroke="#17355c" stroke-width="0.5"/>
<circle cx="414.70" cy="468.60" r="2.0" fill="#0f6fbf" stroke="#17355c" stroke-width="0.5"/>
<circle cx="417.80" cy="463.50" r="2.0" fill="#0f6fbf" stroke="#17355c" stroke-width="0.5"/>
<circle cx="418.30" cy="469.60" r="2.0" fill="#0f6fbf" stroke="#17355c" stroke-width="0.5"/>
<circle cx="419.80" cy="471.20" r="2.0" fill="#0f6fbf" stroke="#17355c" stroke-width="0.5"/>
<circle cx="426.80" cy="452.30" r="2.0" fill="#0f6fbf" stroke="#17355c" stroke-width="0.5"/>
<circle cx="426.80" cy="455.30" r="2.0" fill="#0f6fbf" stroke="#17355c" stroke-width="0.5"/>
<circle cx="426.80" cy="458.40" r="2.0" fill="#0f6fbf" stroke="#17355c" stroke-width="0.5"/>
<circle cx="426.80" cy="464.50" r="2.0" fill="#0f6fbf" stroke="#17355c" stroke-width="0.5"/>
<circle cx="427.00" cy="467.60" r="2.0" fill="#0f6fbf" stroke="#17355c" stroke-width="0.5"/>
<circle cx="429.00" cy="468.60" r="2.0" fill="#0f6fbf" stroke="#17355c" stroke-width="0.5"/>
<circle cx="431.00" cy="469.60" r="2.0" fill="#0f6fbf" stroke="#17355c" stroke-width="0.5"/>
<circle cx="437.70" cy="471.70" r="2.0" fill="#0f6fbf" stroke="#17355c" stroke-width="0.5"/>
<circle cx="441.80" cy="463.50" r="2.0" fill="#0f6fbf" stroke="#17355c" stroke-width="0.5"/>
<circle cx="441.30" cy="467.10" r="2.0" fill="#0f6fbf" stroke="#17355c" stroke-width="0.5"/>
<circle cx="448.40" cy="461.50" r="2.0" fill="#0f6fbf" stroke="#17355c" stroke-width="0.5"/>
<circle cx="448.40" cy="466.10" r="2.0" fill="#0f6fbf" stroke="#17355c" stroke-width="0.5"/>
<circle cx="455.80" cy="456.30" r="2.0" fill="#0f6fbf" stroke="#17355c" stroke-width="0.5"/>
<circle cx="455.80" cy="461.50" r="2.0" fill="#0f6fbf" stroke="#17355c" stroke-width="0.5"/>
<circle cx="455.80" cy="464.50" r="2.0" fill="#0f6fbf" stroke="#17355c" stroke-width="0.5"/>
<circle cx="459.20" cy="464.00" r="2.0" fill="#0f6fbf" stroke="#17355c" stroke-width="0.5"/>
<circle cx="462.70" cy="464.50" r="2.0" fill="#0f6fbf" stroke="#17355c" stroke-width="0.5"/>
<circle cx="463.80" cy="456.30" r="2.0" fill="#0f6fbf" stroke="#17355c" stroke-width="0.5"/>
<circle cx="463.80" cy="457.90" r="2.0" fill="#0f6fbf" stroke="#17355c" stroke-width="0.5"/>
<circle cx="465.80" cy="469.10" r="2.0" fill="#0f6fbf" stroke="#17355c" stroke-width="0.5"/>
<circle cx="469.40" cy="469.10" r="2.0" fill="#0f6fbf" stroke="#17355c" stroke-width="0.5"/>
<circle cx="473.00" cy="464.50" r="2.0" fill="#0f6fbf" stroke="#17355c" stroke-width="0.5"/>
<circle cx="573.80" cy="433.50" r="2.0" fill="#0f6fbf" stroke="#17355c" stroke-width="0.5"/>
<circle cx="573.80" cy="436.00" r="2.0" fill="#0f6fbf" stroke="#17355c" stroke-width="0.5"/>
<circle cx="573.80" cy="445.00" r="2.0" fill="#0f6fbf" stroke="#17355c" stroke-width="0.5"/>
<circle cx="573.80" cy="448.00" r="2.0" fill="#0f6fbf" stroke="#17355c" stroke-width="0.5"/>
<circle cx="573.80" cy="451.00" r="2.0" fill="#0f6fbf" stroke="#17355c" stroke-width="0.5"/>
<circle cx="582.50" cy="409.30" r="2.0" fill="#0f6fbf" stroke="#17355c" stroke-width="0.5"/>
<circle cx="582.50" cy="414.50" r="2.0" fill="#0f6fbf" stroke="#17355c" stroke-width="0.5"/>
<circle cx="582.50" cy="433.50" r="2.0" fill="#0f6fbf" stroke="#17355c" stroke-width="0.5"/>
<circle cx="582.50" cy="440.00" r="2.0" fill="#0f6fbf" stroke="#17355c" stroke-width="0.5"/>
<circle cx="591.30" cy="419.00" r="2.0" fill="#0f6fbf" stroke="#17355c" stroke-width="0.5"/>
<circle cx="591.30" cy="420.50" r="2.0" fill="#0f6fbf" stroke="#17355c" stroke-width="0.5"/>
<circle cx="591.30" cy="434.50" r="2.0" fill="#0f6fbf" stroke="#17355c" stroke-width="0.5"/>
<circle cx="591.30" cy="440.50" r="2.0" fill="#0f6fbf" stroke="#17355c" stroke-width="0.5"/>
<circle cx="603.20" cy="429.00" r="2.0" fill="#0f6fbf" stroke="#17355c" stroke-width="0.5"/>
<circle cx="603.20" cy="432.00" r="2.0" fill="#0f6fbf" stroke="#17355c" stroke-width="0.5"/>
<circle cx="603.20" cy="435.00" r="2.0" fill="#0f6fbf" stroke="#17355c" stroke-width="0.5"/>
<circle cx="603.20" cy="446.00" r="2.0" fill="#0f6fbf" stroke="#17355c" stroke-width="0.5"/>
<circle cx="613.90" cy="430.00" r="2.0" fill="#0f6fbf" stroke="#17355c" stroke-width="0.5"/>
<circle cx="613.90" cy="432.50" r="2.0" fill="#0f6fbf" stroke="#17355c" stroke-width="0.5"/>
<circle cx="619.00" cy="457.50" r="2.0" fill="#0f6fbf" stroke="#17355c" stroke-width="0.5"/>
<circle cx="574.50" cy="452.50" r="2.0" fill="#0f6fbf" stroke="#17355c" stroke-width="0.5"/>
<circle cx="576.90" cy="449.80" r="2.0" fill="#0f6fbf" stroke="#17355c" stroke-width="0.5"/>

<text x="171.00" y="524.60" font-size="10.2" text-anchor="middle" fill="#111">GroEL 7mer conformational transition</text>
<text x="171.30" y="535.60" font-size="10.2" text-anchor="middle" fill="#111">(~400 kDa, ~15Å RMSD)</text>
<text x="91.30" y="634.90" font-size="9.5" text-anchor="middle" fill="#111">Unbound/closed ring</text>
<text x="91.70" y="646.80" font-size="9.5" text-anchor="middle" fill="#111">(PDB: 1ss8)</text>
<text x="258.90" y="634.90" font-size="9.5" text-anchor="middle" fill="#111">GroES-bound/open ring</text>
<text x="258.80" y="646.80" font-size="9.5" text-anchor="middle" fill="#111">(PDB: 1sx4)</text>
<filter id="fg" x="-15%" y="-15%" width="130%" height="130%" color-interpolation-filters="sRGB"><feTurbulence type="fractalNoise" baseFrequency="0.16" numOctaves="2" seed="5" result="n"/><feDisplacementMap in="SourceGraphic" in2="n" scale="4.5" xChannelSelector="R" yChannelSelector="G" result="d"/><feTurbulence type="fractalNoise" baseFrequency="0.28" numOctaves="2" seed="16" result="t"/><feDiffuseLighting in="t" surfaceScale="3.5" diffuseConstant="1.0" lighting-color="#fff" result="L"><feDistantLight azimuth="235" elevation="55"/></feDiffuseLighting><feComposite in="d" in2="L" operator="arithmetic" k1="0.95" k2="0.14500000000000002" k3="0" k4="0" result="m"/><feComposite in="m" in2="d" operator="in"/></filter>
<g filter="url(#fg)"><polygon points="48.0,565.0 60.0,560.0 80.0,558.0 100.0,557.0 124.0,557.0 137.0,560.0 142.0,568.0 144.0,580.0 142.0,595.0 136.0,604.0 126.0,610.0 112.0,613.0 98.0,612.0 87.0,616.0 74.0,615.0 64.0,608.0 54.0,607.0 49.0,598.0 47.5,585.0" fill="#2c3a30"/><polygon points="62.5,554.6 72.1,551.4 81.8,550.6 88.2,554.6 89.8,561.1 72.1,560.0 64.0,559.0" fill="#e3b98a"/><polygon points="88.2,551.4 96.2,549.8 104.2,552.2 105.8,557.8 94.6,561.1 88.5,558.0" fill="#e2703c"/><polygon points="104.2,553.0 112.3,550.6 123.5,551.4 133.1,554.6 123.5,556.2 110.7,557.8" fill="#6c6c6c"/><polygon points="110.7,557.0 123.5,554.6 136.4,557.8 144.4,565.9 146.8,577.1 144.4,591.6 141.2,601.2 134.7,607.6 128.0,606.0 126.0,580.0 115.0,565.0" fill="#6b9a22"/><polygon points="44.8,562.7 56.1,558.7 72.1,557.8 75.3,562.7 70.5,567.5 57.7,577.1 64.1,586.8 73.7,585.1 73.7,598.0 63.3,604.4 62.5,609.2 52.8,610.8 48.0,601.2 45.6,585.1 46.4,572.3" fill="#7fbd8a"/><polygon points="57.7,575.5 64.1,567.5 70.5,562.7 78.5,558.7 88.2,560.3 94.6,565.9 97.8,577.1 104.2,585.1 102.6,593.2 99.4,602.8 97.8,612.4 86.6,618.9 75.3,617.3 65.7,612.4 64.1,604.4 72.1,598.0 75.3,586.8 65.7,585.1 59.3,583.5" fill="#e3716e"/><polygon points="95.4,562.7 104.2,559.5 113.9,561.1 121.9,567.5 129.9,572.3 136.4,577.1 136.4,593.2 133.1,606.0 125.1,612.4 113.9,615.7 104.2,614.0 97.8,607.6 99.4,598.0 104.2,588.4 97.8,577.1 94.6,569.1" fill="#5f55e3"/><ellipse cx="66.0" cy="592.0" rx="6.0" ry="5.0" fill="#2d4a35"/><ellipse cx="68.0" cy="580.0" rx="3.0" ry="3.0" fill="#3c5e44"/><ellipse cx="116.0" cy="585.0" rx="3.0" ry="4.0" fill="#3b3490"/><ellipse cx="83.0" cy="600.0" rx="2.5" ry="2.5" fill="#8a3a3a"/></g>
<g filter="url(#fg)"><polygon points="212.0,570.0 218.0,560.0 230.0,557.0 245.0,557.0 268.0,556.0 286.0,556.0 295.0,562.0 300.0,578.0 302.0,596.0 301.0,606.0 294.0,612.0 287.0,613.0 277.0,620.0 264.0,622.0 252.0,620.0 243.0,622.0 231.0,621.0 221.0,616.0 210.0,608.0 210.5,588.0" fill="#2c3a30"/><polygon points="214.5,564.1 217.7,552.8 220.9,550.4 232.1,552.8 236.9,557.7 227.3,555.3 217.7,557.7" fill="#e3b98a"/><polygon points="235.3,552.8 240.1,547.2 248.2,548.8 254.6,551.2 256.2,557.7 246.6,556.1 238.5,559.3" fill="#e2703c"/><polygon points="256.2,551.2 264.2,548.8 269.1,546.4 275.5,551.2 267.4,557.7 261.0,560.9 256.2,557.7" fill="#6c6c6c"/><polygon points="275.5,551.2 288.3,548.8 294.7,556.1 299.6,565.7 302.8,580.1 305.2,596.2 304.4,607.4 296.4,615.5 289.9,612.3 291.5,593.0 289.9,581.8 293.1,573.7 284.0,556.0" fill="#6b9a22"/><polygon points="209.6,568.9 217.7,557.7 227.3,555.3 236.9,557.7 240.1,564.1 236.9,572.1 230.5,583.4 232.1,593.0 227.3,602.6 219.3,610.7 217.7,617.1 209.6,613.9 206.4,607.4 208.0,588.2" fill="#7fbd8a"/><polygon points="238.5,559.3 246.6,556.1 256.2,557.7 264.2,560.9 267.4,568.9 269.1,581.8 261.0,588.2 265.8,596.2 261.0,604.2 253.0,610.7 253.0,620.3 243.4,625.1 232.1,623.5 220.9,618.7 217.7,609.1 227.3,602.6 232.1,593.0 228.9,583.4 236.9,572.1 238.5,564.1" fill="#e3716e"/><polygon points="267.4,557.7 275.5,554.5 285.1,556.1 291.5,564.1 293.1,573.7 289.9,581.8 291.5,593.0 289.9,604.2 286.7,615.5 277.1,623.5 264.2,625.1 253.0,621.9 251.4,612.3 259.4,604.2 264.2,596.2 261.0,588.2 269.1,580.1 265.8,568.9" fill="#5f55e3"/><ellipse cx="258.5" cy="589.5" rx="5.5" ry="4.0" fill="#7d6a64"/></g>
<line x1="161.00" y1="587.20" x2="202.00" y2="587.20" stroke="#000" stroke-width="2.0"/>
<polygon points="153.5,587.2 163.5,582.2 163.5,592.2" fill="#000"/>
<polygon points="209.5,587.2 199.5,582.2 199.5,592.2" fill="#000"/>
<line x1="351.80" y1="630.60" x2="351.80" y2="628.40" stroke="#333" stroke-width="0.5"/>
<line x1="351.80" y1="520.20" x2="351.80" y2="522.40" stroke="#333" stroke-width="0.5"/>
<text x="351.80" y="638.20" font-size="5.5" text-anchor="middle" fill="#262626">-1000</text>
<line x1="391.75" y1="630.60" x2="391.75" y2="628.40" stroke="#333" stroke-width="0.5"/>
<line x1="391.75" y1="520.20" x2="391.75" y2="522.40" stroke="#333" stroke-width="0.5"/>
<text x="391.75" y="638.20" font-size="5.5" text-anchor="middle" fill="#262626">-800</text>
<line x1="431.70" y1="630.60" x2="431.70" y2="628.40" stroke="#333" stroke-width="0.5"/>
<line x1="431.70" y1="520.20" x2="431.70" y2="522.40" stroke="#333" stroke-width="0.5"/>
<text x="431.70" y="638.20" font-size="5.5" text-anchor="middle" fill="#262626">-600</text>
<line x1="471.65" y1="630.60" x2="471.65" y2="628.40" stroke="#333" stroke-width="0.5"/>
<line x1="471.65" y1="520.20" x2="471.65" y2="522.40" stroke="#333" stroke-width="0.5"/>
<text x="471.65" y="638.20" font-size="5.5" text-anchor="middle" fill="#262626">-400</text>
<line x1="511.60" y1="630.60" x2="511.60" y2="628.40" stroke="#333" stroke-width="0.5"/>
<line x1="511.60" y1="520.20" x2="511.60" y2="522.40" stroke="#333" stroke-width="0.5"/>
<text x="511.60" y="638.20" font-size="5.5" text-anchor="middle" fill="#262626">-200</text>
<line x1="551.55" y1="630.60" x2="551.55" y2="628.40" stroke="#333" stroke-width="0.5"/>
<line x1="551.55" y1="520.20" x2="551.55" y2="522.40" stroke="#333" stroke-width="0.5"/>
<text x="551.55" y="638.20" font-size="5.5" text-anchor="middle" fill="#262626">0</text>
<line x1="591.50" y1="630.60" x2="591.50" y2="628.40" stroke="#333" stroke-width="0.5"/>
<line x1="591.50" y1="520.20" x2="591.50" y2="522.40" stroke="#333" stroke-width="0.5"/>
<text x="591.50" y="638.20" font-size="5.5" text-anchor="middle" fill="#262626">200</text>
<line x1="351.80" y1="630.60" x2="354.00" y2="630.60" stroke="#333" stroke-width="0.5"/>
<line x1="591.50" y1="630.60" x2="589.30" y2="630.60" stroke="#333" stroke-width="0.5"/>
<text x="349.80" y="632.60" font-size="5.5" text-anchor="end" fill="#262626">-300</text>
<line x1="351.80" y1="618.33" x2="354.00" y2="618.33" stroke="#333" stroke-width="0.5"/>
<line x1="591.50" y1="618.33" x2="589.30" y2="618.33" stroke="#333" stroke-width="0.5"/>
<text x="349.80" y="620.33" font-size="5.5" text-anchor="end" fill="#262626">-200</text>
<line x1="351.80" y1="606.07" x2="354.00" y2="606.07" stroke="#333" stroke-width="0.5"/>
<line x1="591.50" y1="606.07" x2="589.30" y2="606.07" stroke="#333" stroke-width="0.5"/>
<text x="349.80" y="608.07" font-size="5.5" text-anchor="end" fill="#262626">-100</text>
<line x1="351.80" y1="593.80" x2="354.00" y2="593.80" stroke="#333" stroke-width="0.5"/>
<line x1="591.50" y1="593.80" x2="589.30" y2="593.80" stroke="#333" stroke-width="0.5"/>
<text x="349.80" y="595.80" font-size="5.5" text-anchor="end" fill="#262626">0</text>
<line x1="351.80" y1="581.53" x2="354.00" y2="581.53" stroke="#333" stroke-width="0.5"/>
<line x1="591.50" y1="581.53" x2="589.30" y2="581.53" stroke="#333" stroke-width="0.5"/>
<text x="349.80" y="583.53" font-size="5.5" text-anchor="end" fill="#262626">100</text>
<line x1="351.80" y1="569.27" x2="354.00" y2="569.27" stroke="#333" stroke-width="0.5"/>
<line x1="591.50" y1="569.27" x2="589.30" y2="569.27" stroke="#333" stroke-width="0.5"/>
<text x="349.80" y="571.27" font-size="5.5" text-anchor="end" fill="#262626">200</text>
<line x1="351.80" y1="557.00" x2="354.00" y2="557.00" stroke="#333" stroke-width="0.5"/>
<line x1="591.50" y1="557.00" x2="589.30" y2="557.00" stroke="#333" stroke-width="0.5"/>
<text x="349.80" y="559.00" font-size="5.5" text-anchor="end" fill="#262626">300</text>
<line x1="351.80" y1="544.73" x2="354.00" y2="544.73" stroke="#333" stroke-width="0.5"/>
<line x1="591.50" y1="544.73" x2="589.30" y2="544.73" stroke="#333" stroke-width="0.5"/>
<text x="349.80" y="546.73" font-size="5.5" text-anchor="end" fill="#262626">400</text>
<line x1="351.80" y1="532.47" x2="354.00" y2="532.47" stroke="#333" stroke-width="0.5"/>
<line x1="591.50" y1="532.47" x2="589.30" y2="532.47" stroke="#333" stroke-width="0.5"/>
<text x="349.80" y="534.47" font-size="5.5" text-anchor="end" fill="#262626">500</text>
<line x1="351.80" y1="520.20" x2="354.00" y2="520.20" stroke="#333" stroke-width="0.5"/>
<line x1="591.50" y1="520.20" x2="589.30" y2="520.20" stroke="#333" stroke-width="0.5"/>
<text x="349.80" y="522.20" font-size="5.5" text-anchor="end" fill="#262626">600</text>
<rect x="351.80" y="520.20" width="239.70" height="110.40" fill="none" stroke="#666" stroke-width="0.6"/>
<text x="337.50" y="575.40" font-size="5.95" text-anchor="middle" fill="#262626" transform="rotate(-90 337.50 575.40)">PC2 (17.98%)</text>
<text x="471.60" y="646.00" font-size="5.95" text-anchor="middle" fill="#262626">PC1 (74.25%)</text>
<polyline points="373.4,600.1 395.0,604.0 420.0,605.6 475.0,605.3 520.0,600.0 544.5,593.5" fill="none" stroke="#cfe9f7" stroke-width="0.8" stroke-opacity="1.0" stroke-linejoin="round"/>
<polyline points="373.4,600.1 385.0,606.5 400.0,610.0 430.0,611.2 475.0,609.6 505.0,605.0 544.5,593.5" fill="none" stroke="#4aa3df" stroke-width="0.7" stroke-opacity="1.0" stroke-linejoin="round"/>
<polyline points="373.4,600.1 388.0,605.8 410.0,608.6 440.0,609.6 475.0,606.8 505.0,602.0 544.5,593.5" fill="none" stroke="#222" stroke-width="0.7" stroke-opacity="1.0" stroke-linejoin="round"/>
<polyline points="405.8,588.9 421.6,582.3 464.5,583.1 470.6,595.4 500.0,595.0 544.5,593.5" fill="none" stroke="#d9cf3a" stroke-width="0.7" stroke-opacity="1.0" stroke-linejoin="round"/>
<polyline points="383.0,600.7 410.0,592.0 428.6,586.6 447.9,584.9 475.0,591.0 510.0,594.0 544.5,593.5" fill="none" stroke="#f08a68" stroke-width="0.7" stroke-opacity="1.0" stroke-linejoin="round"/>
<polyline points="527.3,584.5 536.0,587.5 544.5,593.5" fill="none" stroke="#f2b441" stroke-width="0.7" stroke-opacity="1.0" stroke-linejoin="round"/>
<polyline points="373.4,600.1 393.5,595.9 427.7,602.9 435.6,593.7 458.4,597.2 475.0,598.6 505.0,598.4 544.5,593.5" fill="none" stroke="#8cc152" stroke-width="0.7" stroke-opacity="1.0" stroke-linejoin="round"/>
<polyline points="373.4,600.1 391.8,594.2 398.0,596.5" fill="none" stroke="#a35bd1" stroke-width="0.7" stroke-opacity="1.0" stroke-linejoin="round"/>
<polyline points="415.4,602.4 428.6,592.8 436.0,593.0" fill="none" stroke="#a35bd1" stroke-width="0.7" stroke-opacity="1.0" stroke-linejoin="round"/>
<polyline points="441.7,588.9 449.6,584.9 452.0,586.5 460.1,601.5 475.0,606.8" fill="none" stroke="#d0465f" stroke-width="0.7" stroke-opacity="1.0" stroke-linejoin="round"/>
<polyline points="440.0,589.5 448.0,588.0" fill="none" stroke="#d0465f" stroke-width="0.7" stroke-opacity="1.0" stroke-linejoin="round"/>
<polyline points="373.4,600.1 400.0,595.5 428.6,592.4 475.0,588.9 527.8,587.5 536.6,590.1 544.5,593.5" fill="none" stroke="#3b8fd6" stroke-width="0.8" stroke-dasharray="3.0,1.6" stroke-opacity="1.0" stroke-linejoin="round"/>
<polyline points="373.4,600.1 400.0,596.3 428.6,593.2 475.0,589.6 527.8,588.6 536.6,591.0 544.5,593.5" fill="none" stroke="#111" stroke-width="0.7" stroke-dasharray="3.0,1.8" stroke-opacity="1.0" stroke-linejoin="round"/>
<polyline points="373.4,600.1 390.0,610.0 420.0,613.5 470.0,612.9 501.5,612.0 522.6,607.7 533.0,602.4 538.3,600.7" fill="none" stroke="#ec7b53" stroke-width="0.6" stroke-dasharray="2.6,1.7" stroke-opacity="1.0" stroke-linejoin="round"/>
<polyline points="373.4,600.1 392.0,611.0 425.0,615.0 470.0,617.0 512.0,616.4 534.8,606.8 538.5,601.2" fill="none" stroke="#a35bd1" stroke-width="0.6" stroke-dasharray="2.6,1.7" stroke-opacity="1.0" stroke-linejoin="round"/>
<polyline points="373.4,600.1 394.0,612.0 430.0,617.5 470.0,619.4 511.0,618.5 520.8,618.2 545.3,604.2" fill="none" stroke="#8cc152" stroke-width="0.6" stroke-dasharray="2.6,1.7" stroke-opacity="1.0" stroke-linejoin="round"/>
<polyline points="395.3,607.7 420.0,615.0 453.1,624.3 454.0,616.5" fill="none" stroke="#d0465f" stroke-width="0.6" stroke-dasharray="2.6,1.7" stroke-opacity="1.0" stroke-linejoin="round"/>
<polyline points="374.0,603.0 385.0,608.5 392.0,612.0" fill="none" stroke="#f2a531" stroke-width="0.6" stroke-dasharray="2.4,1.6" stroke-opacity="1.0" stroke-linejoin="round"/>
<circle cx="365.00" cy="597.00" r="2.15" fill="#000"/>
<circle cx="367.50" cy="595.80" r="2.15" fill="#000"/>
<circle cx="370.50" cy="596.20" r="2.15" fill="#000"/>
<circle cx="373.00" cy="597.50" r="2.15" fill="#000"/>
<circle cx="366.00" cy="600.00" r="2.15" fill="#000"/>
<circle cx="369.00" cy="600.30" r="2.15" fill="#000"/>
<circle cx="372.00" cy="600.50" r="2.15" fill="#000"/>
<circle cx="374.30" cy="599.50" r="2.15" fill="#000"/>
<circle cx="368.00" cy="602.50" r="2.15" fill="#000"/>
<circle cx="366.90" cy="605.20" r="2.15" fill="#000"/>
<circle cx="371.00" cy="598.50" r="2.15" fill="#000"/>
<circle cx="442.90" cy="565.20" r="2.15" fill="#000"/>
<circle cx="484.60" cy="533.50" r="2.15" fill="#000"/>
<circle cx="487.30" cy="531.50" r="2.15" fill="#000"/>
<circle cx="488.70" cy="534.10" r="2.15" fill="#000"/>
<circle cx="489.70" cy="538.60" r="2.15" fill="#000"/>
<circle cx="527.30" cy="581.40" r="2.15" fill="#000"/>
<circle cx="536.20" cy="590.10" r="2.15" fill="#000"/>
<circle cx="540.00" cy="591.90" r="2.15" fill="#000"/>
<circle cx="543.00" cy="592.60" r="2.15" fill="#000"/>
<circle cx="546.50" cy="591.00" r="2.15" fill="#000"/>
<circle cx="549.00" cy="589.60" r="2.15" fill="#000"/>
<circle cx="551.00" cy="590.50" r="2.15" fill="#000"/>
<circle cx="553.00" cy="591.20" r="2.15" fill="#000"/>
<circle cx="548.00" cy="593.20" r="2.15" fill="#000"/>
<circle cx="551.00" cy="594.00" r="2.15" fill="#000"/>
<circle cx="554.80" cy="597.00" r="2.15" fill="#000"/>
<circle cx="545.50" cy="595.00" r="2.15" fill="#000"/>
<circle cx="545.30" cy="601.50" r="2.15" fill="#000"/>
<circle cx="552.30" cy="606.30" r="2.15" fill="#000"/>
<circle cx="563.70" cy="612.00" r="2.15" fill="#000"/>
<circle cx="563.70" cy="616.40" r="2.15" fill="#000"/>
<text x="433.30" y="558.90" font-size="7.3" text-anchor="start" fill="#111">8ba8</text>
<text x="481.00" y="547.80" font-size="7.3" text-anchor="start" fill="#111">8bmd</text>
<text x="363.20" y="590.10" font-size="7.3" text-anchor="start" fill="#111">1sx4</text>
<text x="552.70" y="585.30" font-size="7.3" text-anchor="start" fill="#111">1ss8</text>
<rect x="596.60" y="520.30" width="69.50" height="111.40" fill="#fff" stroke="#888" stroke-width="0.5"/>
<line x1="597.8" y1="524.30" x2="606.4" y2="524.30" stroke="#333" stroke-width="0.8"/>
<text x="608.00" y="526.20" font-size="5.55" text-anchor="start" fill="#222">eBDIMS2 - forward</text>
<line x1="597.8" y1="530.79" x2="606.4" y2="530.79" stroke="#111" stroke-width="0.8" stroke-dasharray="2.9,2.7"/>
<text x="608.00" y="532.69" font-size="5.55" text-anchor="start" fill="#222">eBDIMS2 - backward</text>
<line x1="597.8" y1="537.28" x2="606.4" y2="537.28" stroke="#9fcbef" stroke-width="0.8"/>
<text x="608.00" y="539.18" font-size="5.55" text-anchor="start" fill="#222">eBDIMS - forward</text>
<line x1="597.8" y1="543.77" x2="606.4" y2="543.77" stroke="#5aa7e3" stroke-width="0.8" stroke-dasharray="2.9,2.7"/>
<text x="608.00" y="545.67" font-size="5.55" text-anchor="start" fill="#222">eBDIMS - backward</text>
<line x1="597.8" y1="550.26" x2="606.4" y2="550.26" stroke="#f5b7a0" stroke-width="0.8"/>
<text x="608.00" y="552.16" font-size="5.55" text-anchor="start" fill="#222">iMOD - forward</text>
<line x1="597.8" y1="556.75" x2="606.4" y2="556.75" stroke="#ee8a6a" stroke-width="0.8" stroke-dasharray="2.9,2.7"/>
<text x="608.00" y="558.65" font-size="5.55" text-anchor="start" fill="#222">iMOD - backward</text>
<line x1="597.8" y1="563.24" x2="606.4" y2="563.24" stroke="#f7dc92" stroke-width="0.8"/>
<text x="608.00" y="565.14" font-size="5.55" text-anchor="start" fill="#222">GOdMD - forward</text>
<line x1="597.8" y1="569.73" x2="606.4" y2="569.73" stroke="#f2b441" stroke-width="0.8" stroke-dasharray="2.9,2.7"/>
<text x="608.00" y="571.63" font-size="5.55" text-anchor="start" fill="#222">GOdMD - backward</text>
<line x1="597.8" y1="576.22" x2="606.4" y2="576.22" stroke="#cf9ee6" stroke-width="0.8"/>
<text x="608.00" y="578.12" font-size="5.55" text-anchor="start" fill="#222">NGENI - forward</text>
<line x1="597.8" y1="582.71" x2="606.4" y2="582.71" stroke="#a35bd1" stroke-width="0.8" stroke-dasharray="2.9,2.7"/>
<text x="608.00" y="584.61" font-size="5.55" text-anchor="start" fill="#222">NGENI - backward</text>
<line x1="597.8" y1="589.20" x2="606.4" y2="589.20" stroke="#b9df98" stroke-width="0.8"/>
<text x="608.00" y="591.10" font-size="5.55" text-anchor="start" fill="#222">ICONGENI - forward</text>
<line x1="597.8" y1="595.69" x2="606.4" y2="595.69" stroke="#8cc152" stroke-width="0.8" stroke-dasharray="2.9,2.7"/>
<text x="608.00" y="597.59" font-size="5.55" text-anchor="start" fill="#222">ICONGENI - backward</text>
<line x1="597.8" y1="602.18" x2="606.4" y2="602.18" stroke="#e38796" stroke-width="0.8"/>
<text x="608.00" y="604.08" font-size="5.55" text-anchor="start" fill="#222">NOLB - forward</text>
<line x1="597.8" y1="608.67" x2="606.4" y2="608.67" stroke="#d0465f" stroke-width="0.8" stroke-dasharray="2.9,2.7"/>
<text x="608.00" y="610.57" font-size="5.55" text-anchor="start" fill="#222">NOLB - backward</text>
<line x1="597.8" y1="615.16" x2="606.4" y2="615.16" stroke="#dff0fa" stroke-width="0.8"/>
<text x="608.00" y="617.06" font-size="5.55" text-anchor="start" fill="#222">ENI</text>
<line x1="597.8" y1="621.65" x2="606.4" y2="621.65" stroke="#d9cf3a" stroke-width="0.8"/>
<text x="608.00" y="623.55" font-size="5.55" text-anchor="start" fill="#222">aANM</text>
<circle cx="602.1" cy="628.14" r="0.9" fill="#000"/>
<text x="608.00" y="630.04" font-size="5.55" text-anchor="start" fill="#222">Experimental</text>
<defs><pattern id="hy" patternUnits="userSpaceOnUse" width="2.6" height="2.6" patternTransform="rotate(45)"><rect width="2.6" height="2.6" fill="#fff"/><rect width="1.25" height="2.6" fill="#ffc000"/></pattern><pattern id="hr" patternUnits="userSpaceOnUse" width="2.6" height="2.6" patternTransform="rotate(45)"><rect width="2.6" height="2.6" fill="#fff"/><rect width="1.25" height="2.6" fill="#ff1a1a"/></pattern></defs>
<line x1="78.60" y1="802.50" x2="420.60" y2="802.50" stroke="#d9d9d9" stroke-width="0.6"/>
<text x="72.00" y="805.20" font-size="7.6" text-anchor="end" fill="#262626">0,0</text>
<text x="427.30" y="805.20" font-size="7.6" text-anchor="start" fill="#262626">0,0</text>
<line x1="78.60" y1="785.88" x2="420.60" y2="785.88" stroke="#d9d9d9" stroke-width="0.6"/>
<text x="72.00" y="788.58" font-size="7.6" text-anchor="end" fill="#262626">1,5</text>
<text x="427.30" y="788.58" font-size="7.6" text-anchor="start" fill="#262626">2,0</text>
<line x1="78.60" y1="769.25" x2="420.60" y2="769.25" stroke="#d9d9d9" stroke-width="0.6"/>
<text x="72.00" y="771.95" font-size="7.6" text-anchor="end" fill="#262626">3,0</text>
<text x="427.30" y="771.95" font-size="7.6" text-anchor="start" fill="#262626">4,0</text>
<line x1="78.60" y1="752.62" x2="420.60" y2="752.62" stroke="#d9d9d9" stroke-width="0.6"/>
<text x="72.00" y="755.33" font-size="7.6" text-anchor="end" fill="#262626">4,5</text>
<text x="427.30" y="755.33" font-size="7.6" text-anchor="start" fill="#262626">6,0</text>
<line x1="78.60" y1="736.00" x2="420.60" y2="736.00" stroke="#d9d9d9" stroke-width="0.6"/>
<text x="72.00" y="738.70" font-size="7.6" text-anchor="end" fill="#262626">6,0</text>
<text x="427.30" y="738.70" font-size="7.6" text-anchor="start" fill="#262626">8,0</text>
<line x1="78.60" y1="719.38" x2="420.60" y2="719.38" stroke="#d9d9d9" stroke-width="0.6"/>
<text x="72.00" y="722.08" font-size="7.6" text-anchor="end" fill="#262626">7,5</text>
<text x="427.30" y="722.08" font-size="7.6" text-anchor="start" fill="#262626">10,0</text>
<line x1="78.60" y1="702.75" x2="420.60" y2="702.75" stroke="#d9d9d9" stroke-width="0.6"/>
<text x="72.00" y="705.45" font-size="7.6" text-anchor="end" fill="#262626">9,0</text>
<text x="427.30" y="705.45" font-size="7.6" text-anchor="start" fill="#262626">12,0</text>
<line x1="78.60" y1="686.12" x2="420.60" y2="686.12" stroke="#d9d9d9" stroke-width="0.6"/>
<text x="72.00" y="688.83" font-size="7.6" text-anchor="end" fill="#262626">10,5</text>
<text x="427.30" y="688.83" font-size="7.6" text-anchor="start" fill="#262626">14,0</text>
<line x1="78.60" y1="669.50" x2="420.60" y2="669.50" stroke="#d9d9d9" stroke-width="0.6"/>
<text x="72.00" y="672.20" font-size="7.6" text-anchor="end" fill="#262626">12,0</text>
<text x="427.30" y="672.20" font-size="7.6" text-anchor="start" fill="#262626">16,0</text>
<text x="52.40" y="735.80" font-size="7.9" text-anchor="middle" fill="#262626" transform="rotate(-90 52.40 735.80)">Computing time (hours)</text>
<text x="457.40" y="731.00" font-size="7.9" text-anchor="middle" fill="#262626" transform="rotate(-90 457.40 731.00)">RMSD (Å)</text>
<text x="99.90" y="815.00" font-size="7.9" text-anchor="middle" fill="#262626">eBDIMS2</text>
<rect x="87.50" y="789.75" width="8.30" height="12.75" fill="#4472c4"/>
<rect x="104.20" y="789.75" width="8.30" height="12.75" fill="#70ad47"/>
<rect x="92.10" y="798.34" width="5.20" height="4.16" fill="url(#hy)" stroke="#ffc000" stroke-width="0.5"/>
<rect x="102.50" y="797.85" width="5.20" height="4.66" fill="url(#hr)" stroke="#ff1a1a" stroke-width="0.5"/>
<text x="142.76" y="815.00" font-size="7.9" text-anchor="middle" fill="#262626">eBDIMS</text>
<rect x="130.36" y="718.82" width="8.30" height="83.68" fill="#4472c4"/>
<rect x="147.06" y="726.58" width="8.30" height="75.92" fill="#70ad47"/>
<rect x="134.96" y="798.34" width="5.20" height="4.16" fill="url(#hy)" stroke="#ffc000" stroke-width="0.5"/>
<rect x="145.36" y="798.34" width="5.20" height="4.16" fill="url(#hr)" stroke="#ff1a1a" stroke-width="0.5"/>
<text x="185.62" y="815.00" font-size="7.9" text-anchor="middle" fill="#262626">iMODs</text>
<rect x="173.22" y="669.50" width="8.30" height="133.00" fill="#4472c4"/>
<rect x="189.92" y="669.50" width="8.30" height="133.00" fill="#70ad47"/>
<rect x="177.82" y="775.90" width="5.20" height="26.60" fill="url(#hy)" stroke="#ffc000" stroke-width="0.5"/>
<rect x="188.22" y="767.59" width="5.20" height="34.91" fill="url(#hr)" stroke="#ff1a1a" stroke-width="0.5"/>
<polygon points="177.37,662.40 181.47,666.80 179.37,666.80 179.37,678.70 175.37,678.70 175.37,666.80 173.27,666.80" fill="#ff0000" stroke="#000" stroke-width="0.7" stroke-linejoin="miter"/>
<text x="177.37" y="659.30" font-size="7.9" text-anchor="middle" fill="#111">59</text>
<polygon points="194.07,662.40 198.17,666.80 196.07,666.80 196.07,678.70 192.07,678.70 192.07,666.80 189.97,666.80" fill="#ff0000" stroke="#000" stroke-width="0.7" stroke-linejoin="miter"/>
<text x="194.07" y="659.30" font-size="7.9" text-anchor="middle" fill="#111">64</text>
<text x="228.48" y="815.00" font-size="7.9" text-anchor="middle" fill="#262626">GOdMD</text>
<rect x="216.08" y="738.33" width="8.30" height="64.17" fill="#4472c4"/>
<rect x="232.78" y="735.56" width="8.30" height="66.94" fill="#70ad47"/>
<rect x="220.68" y="690.28" width="5.20" height="112.22" fill="url(#hy)" stroke="#ffc000" stroke-width="0.5"/>
<rect x="231.08" y="686.62" width="5.20" height="115.88" fill="url(#hr)" stroke="#ff1a1a" stroke-width="0.5"/>
<text x="271.34" y="815.00" font-size="7.9" text-anchor="middle" fill="#262626">NGENI</text>
<rect x="258.94" y="669.50" width="8.30" height="133.00" fill="#4472c4"/>
<rect x="275.64" y="669.50" width="8.30" height="133.00" fill="#70ad47"/>
<rect x="263.54" y="762.18" width="5.20" height="40.32" fill="url(#hy)" stroke="#ffc000" stroke-width="0.5"/>
<rect x="273.94" y="753.46" width="5.20" height="49.04" fill="url(#hr)" stroke="#ff1a1a" stroke-width="0.5"/>
<polygon points="263.09,662.40 267.19,666.80 265.09,666.80 265.09,678.70 261.09,678.70 261.09,666.80 258.99,666.80" fill="#ff0000" stroke="#000" stroke-width="0.7" stroke-linejoin="miter"/>
<text x="263.09" y="659.30" font-size="7.9" text-anchor="middle" fill="#111">13</text>
<polygon points="279.79,662.40 283.89,666.80 281.79,666.80 281.79,678.70 277.79,678.70 277.79,666.80 275.69,666.80" fill="#ff0000" stroke="#000" stroke-width="0.7" stroke-linejoin="miter"/>
<text x="279.79" y="659.30" font-size="7.9" text-anchor="middle" fill="#111">13</text>
<text x="314.20" y="815.00" font-size="7.9" text-anchor="middle" fill="#262626">ICONGENI</text>
<rect x="301.80" y="669.50" width="8.30" height="133.00" fill="#4472c4"/>
<rect x="318.50" y="669.50" width="8.30" height="133.00" fill="#70ad47"/>
<rect x="306.40" y="768.42" width="5.20" height="34.08" fill="url(#hy)" stroke="#ffc000" stroke-width="0.5"/>
<rect x="316.80" y="749.30" width="5.20" height="53.20" fill="url(#hr)" stroke="#ff1a1a" stroke-width="0.5"/>
<polygon points="305.95,662.40 310.05,666.80 307.95,666.80 307.95,678.70 303.95,678.70 303.95,666.80 301.85,666.80" fill="#ff0000" stroke="#000" stroke-width="0.7" stroke-linejoin="miter"/>
<text x="305.95" y="659.30" font-size="7.9" text-anchor="middle" fill="#111">15</text>
<polygon points="322.65,662.40 326.75,666.80 324.65,666.80 324.65,678.70 320.65,678.70 320.65,666.80 318.55,666.80" fill="#ff0000" stroke="#000" stroke-width="0.7" stroke-linejoin="miter"/>
<text x="322.65" y="659.30" font-size="7.9" text-anchor="middle" fill="#111">15</text>
<text x="357.06" y="815.00" font-size="7.9" text-anchor="middle" fill="#262626">Climber</text>
<text x="399.92" y="815.00" font-size="7.9" text-anchor="middle" fill="#262626">NOLB</text>
<rect x="387.52" y="802.17" width="8.30" height="0.33" fill="#4472c4"/>
<rect x="392.12" y="721.87" width="5.20" height="80.63" fill="url(#hy)" stroke="#ffc000" stroke-width="0.5"/>
<rect x="402.52" y="718.88" width="5.20" height="83.62" fill="url(#hr)" stroke="#ff1a1a" stroke-width="0.5"/>
<circle cx="351.10" cy="795.60" r="4.60" fill="#fff" stroke="#e00000" stroke-width="1.9"/>
<line x1="347.85" y1="792.35" x2="354.35" y2="798.85" stroke="#e00000" stroke-width="1.9"/>
<circle cx="366.50" cy="795.60" r="4.60" fill="#fff" stroke="#e00000" stroke-width="1.9"/>
<line x1="363.25" y1="792.35" x2="369.75" y2="798.85" stroke="#e00000" stroke-width="1.9"/>
<rect x="84.40" y="672.60" width="4.10" height="4.10" fill="#4472c4"/>
<text x="91.20" y="676.70" font-size="7.9" text-anchor="start" fill="#222">Time 1ss8-1sx4</text>
<rect x="84.40" y="681.30" width="4.10" height="4.10" fill="#70ad47"/>
<text x="91.20" y="685.40" font-size="7.9" text-anchor="start" fill="#222">Time 1sx4-1ss8</text>
<rect x="84.60" y="690.20" width="3.70" height="3.70" fill="url(#hy)" stroke="#ffc000" stroke-width="0.5"/>
<text x="91.20" y="694.20" font-size="7.9" text-anchor="start" fill="#222">Final RMSD from 1sx4</text>
<rect x="84.60" y="699.00" width="3.70" height="3.70" fill="url(#hr)" stroke="#ff1a1a" stroke-width="0.5"/>
<text x="91.20" y="703.00" font-size="7.9" text-anchor="start" fill="#222">Final RMSD from 1ss8</text>
<line x1="515.90" y1="806.00" x2="663.80" y2="806.00" stroke="#d9d9d9" stroke-width="0.6"/>
<text x="509.30" y="808.70" font-size="7.6" text-anchor="end" fill="#262626">0,0</text>
<line x1="515.90" y1="788.75" x2="663.80" y2="788.75" stroke="#d9d9d9" stroke-width="0.6"/>
<text x="509.30" y="791.45" font-size="7.6" text-anchor="end" fill="#262626">1,5</text>
<line x1="515.90" y1="771.50" x2="663.80" y2="771.50" stroke="#d9d9d9" stroke-width="0.6"/>
<text x="509.30" y="774.20" font-size="7.6" text-anchor="end" fill="#262626">3,0</text>
<line x1="515.90" y1="754.25" x2="663.80" y2="754.25" stroke="#d9d9d9" stroke-width="0.6"/>
<text x="509.30" y="756.95" font-size="7.6" text-anchor="end" fill="#262626">4,5</text>
<line x1="515.90" y1="737.00" x2="663.80" y2="737.00" stroke="#d9d9d9" stroke-width="0.6"/>
<text x="509.30" y="739.70" font-size="7.6" text-anchor="end" fill="#262626">6,0</text>
<line x1="515.90" y1="719.75" x2="663.80" y2="719.75" stroke="#d9d9d9" stroke-width="0.6"/>
<text x="509.30" y="722.45" font-size="7.6" text-anchor="end" fill="#262626">7,5</text>
<line x1="515.90" y1="702.50" x2="663.80" y2="702.50" stroke="#d9d9d9" stroke-width="0.6"/>
<text x="509.30" y="705.20" font-size="7.6" text-anchor="end" fill="#262626">9,0</text>
<line x1="515.90" y1="685.25" x2="663.80" y2="685.25" stroke="#d9d9d9" stroke-width="0.6"/>
<text x="509.30" y="687.95" font-size="7.6" text-anchor="end" fill="#262626">10,5</text>
<line x1="515.90" y1="668.00" x2="663.80" y2="668.00" stroke="#d9d9d9" stroke-width="0.6"/>
<text x="509.30" y="670.70" font-size="7.6" text-anchor="end" fill="#262626">12,0</text>
<text x="489.80" y="736.50" font-size="7.9" text-anchor="middle" fill="#262626" transform="rotate(-90 489.80 736.50)">Computing time (hours)</text>
<text x="540.50" y="818.40" font-size="7.9" text-anchor="middle" fill="#262626">ENI</text>
<rect x="532.95" y="668.00" width="15.10" height="138.00" fill="#4472c4"/>
<polygon points="540.50,660.30 544.10,664.50 542.45,664.50 542.45,676.00 538.55,676.00 538.55,664.50 536.90,664.50" fill="#ff0000" stroke="#000" stroke-width="0.7" stroke-linejoin="miter"/>
<text x="540.50" y="657.10" font-size="7.9" text-anchor="middle" fill="#111">28</text>
<text x="590.00" y="818.40" font-size="7.9" text-anchor="middle" fill="#262626">aANM</text>
<rect x="582.45" y="668.00" width="15.10" height="138.00" fill="#4472c4"/>
<polygon points="590.00,660.30 593.60,664.50 591.95,664.50 591.95,676.00 588.05,676.00 588.05,664.50 586.40,664.50" fill="#ff0000" stroke="#000" stroke-width="0.7" stroke-linejoin="miter"/>
<text x="590.00" y="657.10" font-size="7.9" text-anchor="middle" fill="#111">16</text>
<text x="639.50" y="818.40" font-size="7.9" text-anchor="middle" fill="#262626">ANMPathway</text>
<circle cx="639.30" cy="799.10" r="4.60" fill="#fff" stroke="#e00000" stroke-width="1.9"/>
<line x1="636.05" y1="795.85" x2="642.55" y2="802.35" stroke="#e00000" stroke-width="1.9"/>
</svg>
</body></html>
